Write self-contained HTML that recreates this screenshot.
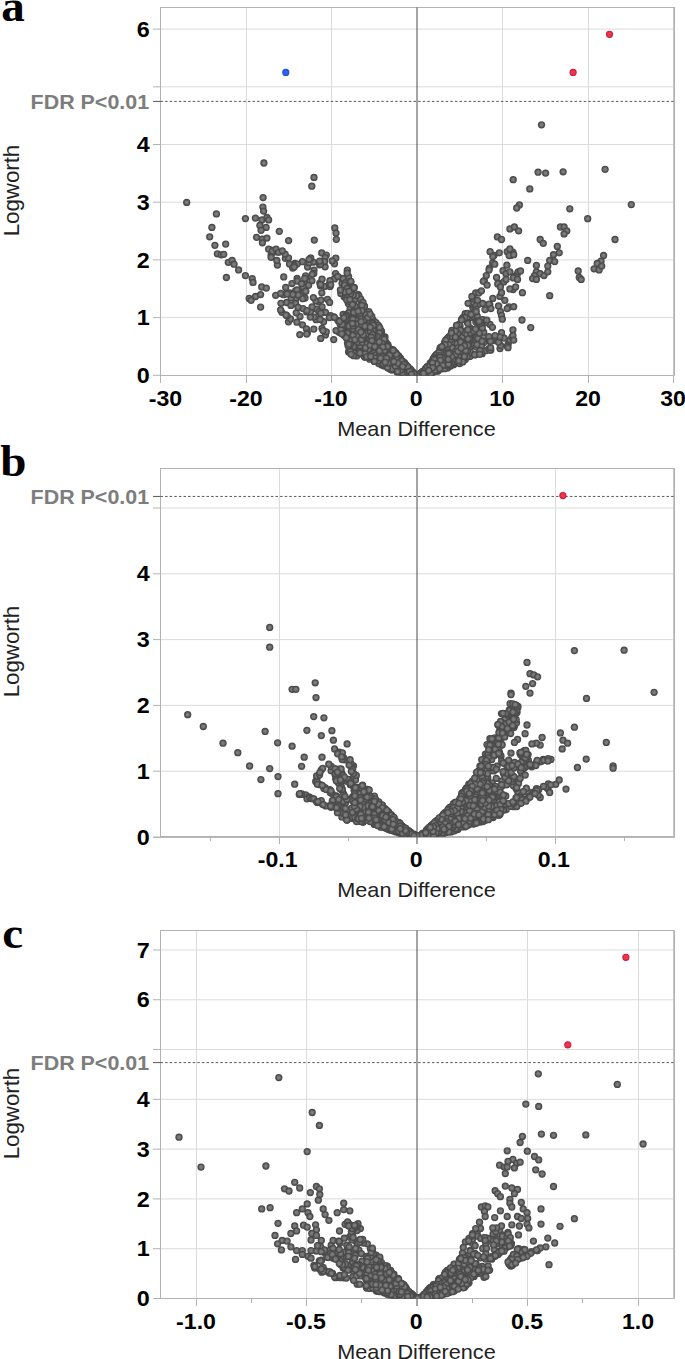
<!DOCTYPE html>
<html><head><meta charset="utf-8"><title>Volcano plots</title>
<style>html,body{margin:0;padding:0;background:#fff}svg{display:block}</style></head>
<body>
<svg width="685" height="1359" viewBox="0 0 685 1359">
<defs>
<marker id="m" markerUnits="userSpaceOnUse" markerWidth="10" markerHeight="10" refX="5" refY="5" viewBox="0 0 10 10"><circle cx="5" cy="5" r="3.65" fill="url(#mg)"/></marker>
<radialGradient id="mg" gradientUnits="userSpaceOnUse" cx="5" cy="5" r="3.65"><stop offset="0" stop-color="#7e7e7e"/><stop offset="0.38" stop-color="#787878"/><stop offset="0.62" stop-color="#5b5b5b"/><stop offset="0.82" stop-color="#494949"/><stop offset="1" stop-color="#4b4b4b"/></radialGradient>
<clipPath id="clipa"><rect x="161.0" y="8.0" width="513.0" height="367.5"/></clipPath>
<clipPath id="clipb"><rect x="161.0" y="469.0" width="513.0" height="367.5"/></clipPath>
<clipPath id="clipc"><rect x="161.0" y="931.0" width="513.0" height="367.5"/></clipPath>
</defs>
<rect width="685" height="1359" fill="#fff"/>
<line x1="153.0" y1="375.3" x2="160.5" y2="375.3" stroke="#b2b2b2"/>
<line x1="160.5" y1="317.6" x2="674.5" y2="317.6" stroke="#dbdbdb"/>
<line x1="153.0" y1="317.6" x2="160.5" y2="317.6" stroke="#b2b2b2"/>
<line x1="160.5" y1="259.9" x2="674.5" y2="259.9" stroke="#dbdbdb"/>
<line x1="153.0" y1="259.9" x2="160.5" y2="259.9" stroke="#b2b2b2"/>
<line x1="160.5" y1="202.2" x2="674.5" y2="202.2" stroke="#dbdbdb"/>
<line x1="153.0" y1="202.2" x2="160.5" y2="202.2" stroke="#b2b2b2"/>
<line x1="160.5" y1="144.5" x2="674.5" y2="144.5" stroke="#dbdbdb"/>
<line x1="153.0" y1="144.5" x2="160.5" y2="144.5" stroke="#b2b2b2"/>
<line x1="160.5" y1="86.8" x2="674.5" y2="86.8" stroke="#dbdbdb"/>
<line x1="153.0" y1="86.8" x2="160.5" y2="86.8" stroke="#b2b2b2"/>
<line x1="160.5" y1="29.1" x2="674.5" y2="29.1" stroke="#dbdbdb"/>
<line x1="153.0" y1="29.1" x2="160.5" y2="29.1" stroke="#b2b2b2"/>
<g shape-rendering="crispEdges">
<line x1="246.5" y1="7.5" x2="246.5" y2="375.5" stroke="#dbdbdb"/>
<line x1="331.5" y1="7.5" x2="331.5" y2="375.5" stroke="#dbdbdb"/>
<line x1="502.5" y1="7.5" x2="502.5" y2="375.5" stroke="#dbdbdb"/>
<line x1="588.5" y1="7.5" x2="588.5" y2="375.5" stroke="#dbdbdb"/>
<line x1="673.5" y1="7.5" x2="673.5" y2="375.5" stroke="#dbdbdb"/>
<rect x="160.5" y="7.5" width="514.0" height="368.0" fill="none" stroke="#b2b2b2"/>
<line x1="673.5" y1="7.5" x2="673.5" y2="375.5" stroke="#c6c6c6"/>
<line x1="160.5" y1="375.5" x2="160.5" y2="383.0" stroke="#b2b2b2"/>
<line x1="246.5" y1="375.5" x2="246.5" y2="383.0" stroke="#b2b2b2"/>
<line x1="331.5" y1="375.5" x2="331.5" y2="383.0" stroke="#b2b2b2"/>
<line x1="502.5" y1="375.5" x2="502.5" y2="383.0" stroke="#b2b2b2"/>
<line x1="588.5" y1="375.5" x2="588.5" y2="383.0" stroke="#b2b2b2"/>
<line x1="673.5" y1="375.5" x2="673.5" y2="383.0" stroke="#b2b2b2"/>
</g>
<line x1="417.0" y1="7.5" x2="417.0" y2="383.0" stroke="#4a4a4a"/>
<line x1="153.0" y1="101.4" x2="160.5" y2="101.4" stroke="#5a5a5a"/>
<line x1="160.5" y1="101.4" x2="674.5" y2="101.4" stroke="#5a5a5a" stroke-dasharray="2.5 2.1"/>
<g clip-path="url(#clipa)"><polyline fill="none" stroke="none" marker-start="url(#m)" marker-mid="url(#m)" marker-end="url(#m)" points="447.6,344.6 337.9,320.5 367.1,316.3 462.8,317.6 475.9,322.1 451.3,346.8 369.7,359.2 348.5,276.3 307.6,267 374.9,348.9 407.1,370.1 381.1,360.9 413.2,374.4 402.6,371.4 421.1,375 452,353.6 450.8,342.8 377.5,342.9 473.9,339.6 508.2,344 286.7,302.5 387.9,344.7 378.5,358.6 444.8,356.4 319.6,264.8 395.8,359.7 444.4,367 386.2,351.9 350.5,311.4 347.8,286.6 421.1,375 394.2,353.9 387.7,355.9 370,352.8 321.7,252.9 381.7,364.9 444,359.7 407.7,373.6 426.4,370.9 397.8,363.8 436.6,369.7 361.8,341.5 425.2,369.2 382.5,347.6 405,370.3 352.9,310.5 348.1,291.9 393.6,363.7 447.3,367.4 350.8,290.5 495,340.7 387.3,350 455,354.8 368.4,348.8 472.8,307.5 375.4,350.3 300,316.4 380.4,341.7 452.1,332 446.1,339.6 429.4,371.8 339.7,330.6 361.7,305.2 350.7,317.2 347.3,270.2 346.4,298 452.5,351.7 370.8,331.9 398.3,371.9 407.5,374.4 440.2,349.2 432,364 400.6,366.9 398.6,365.1 339.1,332.3 404.5,372.9 429.3,368.4 393.7,352.7 429.8,369.6 432.9,371.5 378.6,360.7 376.7,333 350.2,346 366.9,325.2 363,305.9 294.9,263.5 361.6,315.1 373.2,320.1 394,368.2 353.9,319.8 343.5,332.7 358.4,351.1 380.5,361.3 446.6,361.1 356.7,333.9 397.7,367.8 453.1,355.3 385,337 427.2,372 437.3,359.4 490,324.5 464.8,351 478.3,304.6 440,353.9 422,372.2 316.1,319.7 510.9,255.3 362.6,309.1 452.6,338.7 386.8,347.3 467.5,322.2 355.3,347 355.5,308.7 420,375.1 440.2,348.4 403.8,365 436.9,363.2 372.8,355.8 389.9,354.8 451.8,364.5 384.6,341.6 460,326.2 372.8,330 361.6,345.5 383.9,362.8 469.3,356.5 470.2,356.3 381,343.7 449.4,358.1 379.7,362.1 445.7,354.9 428.7,374.9 357.8,354.3 425.7,371.2 399.3,363.6 364.7,348.8 463.6,343.6 500,348.6 394.8,354.4 410.2,373.8 373.6,359.2 432.4,371.5 395.3,352.4 371,331.2 426.3,374.3 367.3,320.6 452.8,359.9 460.7,355.5 302.4,324.8 407.7,372.8 446.4,341.6 393,355.9 354.8,299.6 402.6,371.7 372.5,348.2 433.8,361.1 325.4,334.9 297.4,290.5 402.1,366.3 343.1,314.4 443.1,365.9 405.8,365.5 500.6,345.5 483.5,319.9 281.9,312.3 366.5,347.9 406.8,370.8 443.6,368.2 326.3,255.1 346.4,326.3 314,270.1 392.9,367 398.7,356 430.8,364.1 445.6,360.5 401.2,369.6 381.1,345.3 346.1,315.2 412.2,371.8 400.2,365.4 379,362.3 397,358.9 376,322.7 432.7,372.8 390.3,359.8 452.9,333.4 426.2,372.4 360.2,345.9 356.7,355.9 401.1,369.6 500.6,284.3 364.9,334.6 325.5,312.4 441.9,362.9 385.9,360.5 304,291.8 359,351.6 364.9,357 345.2,295.6 460.4,362.2 381.8,353.6 285.4,258.3 404.6,362.9 409.9,373.1 437,366.8 489.4,341.2 335.6,273.6 378.3,329.9 482.2,353.7 383.3,362.1 383.1,337.9 406.6,368.5 437.9,359.4 446.3,353.3 368.9,357.1 413.7,373.1 406.6,372.5 470.1,328 384.8,361.4 399.9,357.9 457.2,351.7 459.4,344.3 374.9,326.8 389.7,367.2 385.8,357.1 402.2,371.9 393.8,367.3 439.6,366.9 442.1,357.5 383.9,365.3 507.4,346.2 348.6,352.1 381.9,358.5 348.5,337 369.9,347.5 318.7,301.8 410.3,374.8 400.4,369.6 504,338 485.5,322.5 448,359.6 358.1,317.7 364.8,357.1 395.3,366.1 372,338.3 462.1,343 479.6,322.4 470.4,342.9 445.8,365.1 385,341.7 381.1,363.6 383.8,364.7 443,367.2 283.4,294.7 407.5,367.5 465.2,313.7 294.6,264.5 383.6,358.5 470.1,330 380.7,360.7 400.1,369.5 365.9,320.1 460.5,341.7 437.4,369.1 448.1,365.7 371.3,332.2 463.4,360.8 369.7,354.1 381.2,362 407.2,374.4 340.5,324.5 364.7,313.9 465.3,359.6 428.2,372.9 400.7,365.4 410.7,374.9 447.1,352 363.1,329.9 342,278.5 320.7,338.4 385.7,364.7 356.3,327.4 380.8,361.1 356.6,313.2 333.9,317 390.7,365.3 429.6,373.3 350.3,296.6 393.8,366.1 462.1,343.3 440.9,352.6 382.3,345.5 366.8,333.9 471.4,336.4 455.6,349.1 482.1,319.6 435,363.2 399.1,368.7 353,304.1 401.6,362.4 354.3,334.3 381,348.6 384.8,355.1 305.8,284.1 409,368.8 386.2,363.4 475.9,308.7 391.6,356.9 424.6,370.8 445.5,366.4 425.2,373.6 430,365 313.2,262.2 350.2,308.4 410,371.1 433.6,362.7 443.2,351.2 453.6,364.7 435.6,370.6 403.8,367 394,357.9 470.3,346.7 437,355.8 435.8,363.4 386.3,353.5 319.8,283.1 432,372.9 345.4,296.9 443,358.1 429.4,372 440.4,348.6 442.8,361.6 384.4,347.1 430.6,366.4 313.8,273.4 428,368.9 396.7,362.5 440.4,348 425.1,374.3 444.4,364.7 425.4,373.1 410.8,369.8 375.9,343.3 380.5,337.8 430,367.3 385.8,356.9 358.8,339 324.7,286.4 473.2,341.6 432.2,370 405,365.1 375.1,356.8 440.9,362.9 385.9,353.5 356.5,326 385.3,346.9 465,355.9 462.9,347.8 364.4,320.2 365.2,323.1 451.1,359.1 426.2,373.5 336,330.6 457.8,356.2 315.9,300.9 462.1,349.5 401.2,362.2 343.9,333.6 296.6,297.3 348.7,312.7 473.7,300.3 425,373.5 344.1,321.2 387,350.6 349.6,343.5 296.9,322.2 431.7,366.6 394.9,369.6 325.1,257.6 435,364.7 394.3,367.5 508.9,306.9 381.9,352.5 383.4,354.1 347.5,343.1 399.9,367.8 375.9,339.5 330.6,315.6 397.9,359.5 454.9,357.1 467.8,323.6 399.3,368.4 375.4,358.3 390,363.2 432.5,370.9 395.8,361.5 399.9,364.3 436.1,357.7 403.3,369.8 295.7,290.6 460.6,354.7 378.8,355.1 451.9,350.8 466.4,330.7 407.6,369.6 365.9,344 398.9,360 369.9,356.6 431.1,369.6 460.2,329.9 354.6,313 422.6,371.4 437.5,365.1 405.8,371.4 394.1,367 302.5,261.7 455.5,336.5 397.3,355.8 352,338.5 451.9,350.8 414.6,374 377.7,362 479.6,349.5 413.3,372.8 444.6,358.3 428.8,373.5 406.4,374 407,371.2 479.7,334.6 439.9,352.8 299.8,334.6 448,362.8 407.8,375.2 439.2,368.2 398,370.7 400.5,358.9 391.5,349.3 467.6,313.3 426.2,370.6 448.5,347.3 390.9,360.2 483.7,342.5 345.2,290.5 351.1,291.8 429.3,374.4 449.4,358.1 380.5,330.5 322.1,306.8 392.1,350.1 461,344.3 361.8,317.2 416.6,374.6 363.9,325 504.8,300.3 295.5,299.2 411.3,371.6 370.4,319.7 404.4,373.9 364.3,307 354.3,287.4 356.8,332.5 369.5,321.8 297.1,278.4 297.3,281 358,294.3 306.1,277.2 449.7,345.2 363.3,309 378,345 394.4,355.9 406.3,370.3 382.2,357.5 464.9,317.5 458.7,354.2 364,355.9 346.2,282.8 390.9,352.6 441,356.2 351.7,319.3 440.5,355.5 388.1,348.1 327.5,299.3 381,353.3 449.4,343.1 378.2,361.5 388.9,363.4 428.7,371 426.6,372.4 382.6,338.6 378.4,358.1 314.1,317.1 471.9,332.1 342,283.3 416.9,374.7 434.1,358.6 459,348.7 476.7,336.5 472.2,317.7 447.2,358.3 466.7,332.1 449.9,346.6 381.9,356.3 432.3,362.3 497.7,340.9 473.7,339.8 271.1,255 383,336.7 302.6,287.9 360.7,334 388.7,355.6 349.7,296.9 354.3,353.2 389,357.9 391.9,370 410,371.2 428.3,367.5 510.1,340 364.6,323.9 489.8,304.6 366.1,343.9 364.5,306.1 296.2,312.8 297,289.9 483.8,336.2 436.1,359.5 434.9,359.8 446.2,362.7 501.5,332.7 410.1,368.9 453.1,352.6 348,326.9 289.8,293 396.9,370.4 343.1,278.7 351,290.9 384,345.6 390.7,368 473.5,316.4 488.9,336.7 429.6,369.9 395.9,358.9 382.6,340.7 461.9,353.8 429.3,372.1 351.9,338.1 353.7,326.9 444.1,355.4 365.9,340.4 410.4,370.1 402.4,373.6 451.9,341.9 349,351.2 310.4,317.1 421.7,373.1 470.3,340.6 421.2,374 306.5,328.9 378.2,337.2 445.7,346.7 456.5,345.9 374.3,357.7 362.2,326.4 367.9,335 393.3,368.2 407,365.9 311.9,280.7 454.6,363.6 365.7,323.6 371.1,330.6 462.9,333.5 370.4,324 374.1,361 316.6,309.2 366.1,345.3 350,348.9 394.7,354.6 447.9,351.8 449.5,362.9 330,286.6 427,372.3 474.4,345.2 403.1,370.7 436.7,355.3 385.7,341.8 355.8,320.2 451.2,358.1 436.3,355.3 389.8,368.8 323.6,321.7 373.2,324.1 340,323.8 432.8,363.1 512,337.1 475.7,313.9 457.4,329.8 368.9,311.7 384.7,365.1 386,359.3 426.1,368.6 288.5,321.8 477.4,328.2 353.4,346.8 388,364.7 503.8,281.9 444.7,359.9 455.4,336.7 320.5,285.9 420.6,374.1 281,303.3 432,370.5 445.4,359.8 397.2,372.2 361.2,352.4 354.7,325.9 409.3,369.5 424.6,372.9 455.2,331.8 427.4,373.4 391.5,356.6 367,349.4 388.8,357.7 440.8,349.8 468.9,340.3 393,358.9 353.9,313.2 386.5,353.8 389.5,349.7 381,346.5 325.1,266.8 477.6,336 382.1,344.3 454.5,361.8 381.2,332.2 427.5,366.3 342.3,291.1 347.1,284.1 341,329.6 438.8,369.1 433.8,369.9 375.2,334.6 415.6,375 442.7,351.9 350.3,350.3 453.9,359.7 377,356 433.1,359.7 313.8,329.1 445.1,361.5 381.1,338.5 357.3,326.2 448.2,339.6 391.7,353.7 514.4,276.5 459.7,363.5 360.6,353.5 400.9,370.2 390.6,362.2 486.8,320.1 444.5,351.5 428.3,366.9 517.4,273.9 353.8,336 455,340.9 490.8,350 367.2,328.3 370.1,356 406.4,373.5 439.4,368.5 483.7,332.1 375.7,327.6 395,359.3 378.4,353.1 396.1,353.2 345.2,291.7 380.3,354.2 412.8,372.3 448,363.4 423,373.9 368.2,328.8 476.2,347 456.8,332.8 388,350.6 405.7,364.7 344.8,283 443.1,363 431.4,372.4 359.3,325.8 310.7,258 370.1,322.6 393.2,349.8 448,365.1 308.6,285.3 305,298 469.1,352.5 371,340.3 468.4,338.9 437.6,370.9 344.5,285.1 433,362.3 406.7,372 358.9,295.8 381.4,356.7 357,333.9 494,255.3 361,301.1 368,338.8 396.6,369.2 477.2,316 420.6,373.2 434.6,370.1 365.7,327.1 447.6,367.9 376.2,339.8 396.5,368 302.9,286.8 321.8,292.8 444.7,342.2 452.3,342.3 385.2,365.8 470.5,352.4 379.3,356.8 377.4,347.2 400.9,365.4 436,364.4 389.1,359 444.7,363.6 449.6,347.8 364.8,314.4 343.2,323.9 428.6,369 386.1,343 402,369.4 321,300.1 448.8,336.8 382.6,349.1 302.7,298.7 362.1,330.7 369,315.4 447.7,360.1 385.8,347.8 393.3,353.4 449.8,348.8 384.5,343.2 440.2,358.2 344.1,296.7 365.6,314.5 381.2,354.4 391.7,362.3 374.5,349.4 334.5,278.9 271.3,250.1 421.5,375 412.8,374 443.5,360 481.8,324.5 391.6,355.7 322,328.4 329.4,317.6 372.6,323.1 436.3,365.3 391.5,367.8 443.2,349.6 435.8,367.6 446.6,362 445.1,358.5 481.1,322.8 398.1,360.6 391.4,360.7 333.7,339.6 475.2,354.8 426.5,369.8 389.3,367.5 290.5,318.9 459,350.8 442.3,363.7 350.8,282.2 381.3,340.8 421.3,373.4 481.4,353.1 435.1,363 444.2,344.6 461.9,348.9 451.8,363.4 348.3,303.5 402.3,360.9 367.3,349.2 384.3,357.6 396.2,355.3 384,363.6 431.9,368.4 379.1,356.1 426.4,368 473.2,304.7 435.1,356 400.3,358.1 363.6,321 376.2,328.1 429.2,372.1 467.1,356.7 384.2,365.9 407,372.3 437.7,357.4 373.1,334.2 393.1,354 349.7,343.2 392,361.3 444.2,352.5 404.2,371.1 348.1,321.8 388.2,346.5 461.6,319.3 444,347 447.7,338.1 396.5,356.9 326.3,331.8 402.8,364.7 321.6,262.5 383.3,344.7 405,370.3 414.3,373.8 438.3,361.5 403,366.1 423,374.6 396.2,357.9 353.5,346.6 453.7,334.4 322,279.2 388.2,368 469.6,338.5 390.8,366 346,320 471.2,314.1 389.3,364.8 458.1,331.5 486.2,350.6 452,330.5 418.5,375.2 442.4,358 435.9,369.3 306.7,311.9 388.6,357.6 387.7,359.3 427.1,369.4 463.9,350.6 357.6,327 478.1,339.3 430.5,368.6 389.5,355.7 448.6,348 450.6,366 313.4,297.6 386.6,360 329.3,284.4 365.4,349.6 376.8,331 460.6,332.9 446.1,350.7 464.4,358 388.7,359.4 402.6,372.3 410.5,371.1 320.6,284.5 367.3,338.6 401.1,364.9 297.1,264.1 378.9,331.8 476.6,337.5 383.7,353.8 347.1,288.5 381.9,335.8 351.4,327.8 405.8,374.9 440.7,369.1 392.9,368 356.3,307.2 382.6,340.4 462.2,337 492.6,262.8 381.5,331.4 371.1,345.1 368.8,338.5 390.4,368.9 360.1,313.3 385,353.6 414.5,374.8 442.3,356.5 450.7,339.6 393,360.5 383.2,363.9 398.5,358 474.6,304.1 381,360.3 445.4,355.4 377,345.1 403,372.8 397.4,369.3 432.7,372.1 471.5,302.4 354.3,308.2 365.2,333.9 360.8,299.1 438.2,362.1 298.1,295 342.1,291.3 432,365.6 448.5,358.8 407.6,367.4 350.5,329.6 498.6,342.2 424.7,373.3 342.2,324.4 294.1,265.7 433.2,358.9 380.9,343.2 395,360.6 323,330.6 405.8,375.1 438.5,355.4 409.7,369.8 403.9,362.5 441.5,362.1 462.4,355.5 353.5,355.7 377.2,347.5 437.4,367.5 398.3,358.3 277.4,265 430.1,367.2 431.6,365.2 380.7,335.6 366.7,325.6 287.1,315.8 352.4,330.9 339.5,321.3 464.6,332.5 459.3,324.2 352.6,288.5 404.6,368.8 449.6,358.6 371.2,329.5 388.4,365.1 347.5,333.3 378.2,352.9 379.3,349.6 358.6,342.4 276.8,260.5 499.7,336.8 362.8,341.2 367.7,356.3 348,317.2 396.7,365.1 401.5,364.3 374,353.2 357.9,324 436.8,370.5 488.7,348.8 498.6,283.2 399.8,365.4 459.7,358 370.6,344.3 361.5,324.6 400.5,361.1 370.3,328.5 382.1,338.2 396.9,365.5 307.5,332.8 441.4,366 401.8,363.1 490.2,350.1 495,335.6 289.5,264.1 403.8,362.6 441.9,348.9 377.5,356.2 350.2,321 354.1,339.9 437,369.9 371.8,316.5 405.3,370.9 474.5,354.7 440.3,356.9 362.3,342.5 334.5,263.8 367.9,317.5 324.5,261.7 402,363.8 356.5,295.8 406.5,372 378.8,363.5 347.1,273.1 303,308.6 437.5,361.1 426.6,369.8 345.9,318 351.1,354.3 398.9,371.4 334.4,317.3 375.9,346.9 398.7,363.2 444.9,366 340.8,293.4 458.2,345.3 370.1,314.1 319,312 448.2,359.3 489.4,268.1 295.6,303.5 451.5,354.3 439.2,359.7 459.1,340.1 388.3,348.3 444,350.7 388.4,353.3 481.2,352.7 466.9,334.4 370.7,327.9 393.3,357.3 397.1,367.9 399.5,365.1 422.3,373.2 357.6,336.5 437.8,371 478,338.5 376.9,361.1 368.4,349.3 461.7,358.5 392.6,354.7 309.1,262.8 434.9,370.9 382.6,358 431.4,367.9 408,372.1 436.9,354 383.1,364.9 390.9,352.2 455.8,349.8 329.9,280.7 349.8,345.9 389.6,358.9 380.6,330.1 353.8,312.5 290.9,305.4 450.2,365.3 441.8,352.5 431,366.6 458.3,359.2 404.7,368.7 392.4,360.7 463.8,358.3 453.2,352.9 365,353.7 359.9,353 462.4,352.1 353.1,295.2 436.2,362.2 450.4,335.7 377.6,336 335.8,258.1 384.7,342.4 449.2,362.2 490.4,341.3 473.6,298.8 388.6,357.8 429.4,371.9 390,363.4 402,368.2 448.3,356.2 363,302.4 351.7,322.4 310.4,311.7 361.1,321.6 384.3,339.8 348.5,301.3 444.7,368.7 404.3,374.9 383.5,349.7 470.5,332.9 275,251.9 380,339.6 451.1,335.9 414.4,374.2 438.3,369.6 439.9,368.5 351.7,340.3 370.1,357 376.9,355.8 506.9,265.2 412.1,371.5 382.5,356.9 362.6,332.9 394.5,362 410.5,373.9 362.1,337.4 396.3,362.5 435.7,367.1 385.3,364.3 513.3,277.9 346.7,298.5 407.2,370 320.1,319.5 436.2,354.8 379.4,332.9 291.2,298 367.9,342.2 434.6,364.3 490.6,347.7 298,307.4 379.2,346.7 424.6,371.3 345.5,297.6 484.3,280.6 384.4,345.4 446.7,352.7 394.3,369 376.2,343.2 407.5,370.6 412.9,374 432,361.8 446.7,365.2 386.9,351.5 445.8,340.3 461.1,351.3 444.3,359.6 384.3,339.2 372.5,323.5 482.3,327.9 432.3,361.4 403,364.7 383.8,362.8 361.4,339.5 329.6,302.4 434,357.7 373.6,332.8 427.2,373.9 473.4,313.1 375.4,355.2 373.8,325.1 355,306.1 466.8,346.3 365,326.3 436.4,369.2 449,344.8 447.8,355.9 346.3,318.4 292.8,294.5 363.4,335.1 337.8,276.5 376.8,336.1 443.9,363.4 433.3,364.1 481.5,345.7 467.8,345.3 434,367.7 292.7,268 426.2,367.9 480.6,323.3 350.3,344.6 397.7,363 292,283.6 457.1,343.7 460.6,342 460.3,330.2 434.8,368.3 370.5,329.4 428.5,368.2 367.5,343.6 405.1,364 447.9,350 294.2,267 467.5,350.9 370.7,357.5 397.8,367.2 382.2,352.2 378.7,359.5 350.5,294 384.6,350.6 395.9,361.9 439.6,360.6 457.7,333.5 439.1,352.2 287.1,294.1 438.9,358.9 452.6,348 449.6,356.7 397.5,366.2 285.7,287.5 462.7,361.9 404.1,365 286,315 344.2,335.5 408.6,372.9 312.1,306.9 499.9,296.4 433.8,369.2 348.1,346.1 450.6,336.7 405.6,371.5 373,337.9 397.8,356 414.1,374.6 480,350.6 309.1,259.4 458.7,355.6 383.5,356.1 409.8,370.1 436,364.8 405.6,366.4 391,352.7 391.7,359.7 492.4,327.3 374.2,335 369.6,334.1 482.1,341.2 389.6,358.5 407.8,367 433.3,363.3 447.6,364.3 344.9,292 346.5,315.1 340.4,290 399.3,358.9 397,357.5 468.1,339 410.1,369.4 345.5,316.5 403,363.9 455.4,331.1 440.3,364.2 442.4,362.5 456.5,325.4 424.5,370.9 459.9,351.7 347,297.8 432,372.9 429.9,374.2 375,358 346.2,337.7 283.7,276.9 365.4,347.8 400.7,364.3 372.9,330.1 412.5,374.6 382.1,343.3 485,309.6 426.7,372 367.1,333.6 433.7,358.9 378.4,325.3 341.7,333.8 431.8,362.4 305.6,275.8 452.6,336.1 288.5,257.9 401.3,360.6 353,335.2 442.8,365.3 301.6,283.7 455.8,351.1 392.4,352.9 306.7,334 430.3,363 455.8,354.3 475.7,293 435.9,369.1 407.6,366.9 375.5,346.5 430.7,363.7 356.3,330.7 479.7,354.3 353.1,328.9 396.3,354.2 429.8,365.4 379.9,353.7 370.4,331.7 477,344.6 366.6,356.8 378.7,360.7 465.7,350.6 387.4,346.5 397.4,371.8 353.9,287.9 477.6,320.9 320.6,264.2 319.7,261.2 363.3,334.9 379.2,341.9 401.8,361.1 436,360.4 425.7,369.6 380.1,353.5 479.3,333.1 445.1,344.7 452.4,336.7 479.3,321.7 382.9,347 349,326 437.2,367.2 384.6,363.7 448.5,352.5 361.9,305.4 390.4,368.9 482.7,303.5 388.6,356.3 332.2,260.9 436.1,365.9 409.4,374.2 397.8,364.5 399.5,372.2 402.3,372.9 471.1,314.5 330.7,284.8 473.7,331.3 354.9,339.8 350.8,281.3 397.8,367.4 349,291.5 346.8,299.9 457.8,347.9 477.8,322.1 437.6,360.4 412.2,372.1 390.8,357.4 361.9,310.7 382.2,356.8 312.2,274.3 358.4,329.5 349.8,299.6 353.1,325.9 479.2,321.4 439.3,355.7 442.3,358.1 410.8,372.5 285.1,254.1 370.2,345.2 440,357.4 392.1,368.7 451.4,333 440.8,347.4 360.9,332.1 372.5,334.7 306.9,310.6 352.8,319.4 374.4,361.4 424.8,374.4 431,367.2 358.1,311.2 475.6,329.1 451.6,356.7 464.4,356.5 320.8,313.3 387.5,367.5 404,364.2 440.4,360.3 370,339.4 304.7,278.5 383.1,363.9 389.7,355.2 430.9,373.6 434.3,359.5 348.9,344.3 478.8,293 395.4,366.1 370.7,356.4 457.9,351.3 414,373.9 373.2,325.3 435.2,370.2 436.6,363.9 397.8,363.1 427.1,366.9 352.4,323.5 423.6,373.5 374.8,346.7 401,369.9 461.6,319.9 408,372.8 371.3,337.2 448.5,364.2 439.7,368.6 467.9,329.8 397.5,371.6 305.8,291.2 370.2,327.3 388.2,363 464.5,345.9 380.6,358.1 429.5,366.9 432.5,362.9 409.5,371.5 411.5,374.3 432.6,367.7 386.5,358.2 428.7,370.5 402.7,366.6 448.8,353.5 448.2,359.4 393.2,350.5 441.9,346.7 455.4,337.1 352.5,304.6 280.6,309.9 343.9,317.7 379.6,327.4 461.1,348 371.9,340.6 385.2,362.2 393.8,361.5 476.2,311.6 379.4,350.9 458.7,360.9 513.1,289.5 186.7,202.4 263.9,163 314,177.4 311.8,186.2 263.1,197.6 262.9,207.1 263.6,211.1 216.4,213.9 245.4,218.6 255.4,218.1 261.9,219.9 266.9,217.4 268.6,219.9 259.9,225.4 266.1,227.4 261.1,230.3 211.9,227.4 279.3,231.3 209.7,236.8 256.6,237.3 262.4,239.1 266.9,238.1 262.4,242.8 288.6,240.6 314.3,240.1 334.8,227.9 336,233.1 336.3,239.3 225.7,244.1 214.9,245.3 217.4,253.8 221.2,254.8 223.7,254.3 268.6,249.1 272.4,251.1 276.1,249.1 278.6,252.3 282.3,250.8 271.1,257.3 228.3,262.3 232.1,260.4 234,264.2 238.6,269.9 245.4,275.6 226.4,277.5 252.2,278.6 253,282.4 249.2,298.4 251.1,300.3 255.6,296.5 260.6,294.6 261.7,287 266.3,288.1 260.6,307.1 275.7,295.3 280.7,293.4 541.5,124.8 538.1,172.2 545.6,173.1 563.1,171.8 605.1,169.3 513.2,179.7 529.8,188.9 631.3,204.6 569.8,208.8 587.7,218.7 519.4,205 516.7,208 509.9,228.9 514.4,227 518.6,230.8 560.4,227 564.1,227 566.8,230.8 564.1,233.9 497.4,236.9 501.5,239.5 540.2,239.5 543.3,243.3 615,239.5 557.3,246.4 559.2,252.8 553.5,254.7 549.7,260.4 554.7,261.6 547.8,266.1 603.6,255.5 601,261.2 597.2,263.5 594.1,268.8 599.1,269.9 601.7,266.1 578.2,271 579.3,277.5 581.2,279.4 490.1,251.7 492.8,256.6 499.3,252.8 507.2,251.7 512.9,252.1 509.9,249 509.1,255.5 513.7,254.7 527.7,260.4 536.4,265.4 494.7,264.2 489,269.9 486.3,275.6 483.3,281.3 536.4,271.8 534.5,275.6 540.2,273.7 544,275.6 547.8,271.8 532.6,278.6 536.4,279.4 503,270.7 506.1,273.7 509.9,271.8 518.2,271.8 520.5,271 496.6,277.5 506.1,279.4 517.5,279.4 487.1,285.1 497.7,283.9 509.9,288.9 515.6,287 500.4,287 501.5,292.7 522.4,292.7 549.7,295.7 481.4,290.8 471.9,296.5 468.1,303.3 477.6,300.3 492.8,298.4 489,304.1 498.5,306 513.7,306.7 507.2,308.6 500.4,311.7 490.9,308.6 501.5,315.4 502.3,319.2 522,320 530.7,327.6 512.9,329.9 512.9,335.6 513.7,340.1 508,347.7"/>
<circle cx="285.8" cy="72.4" r="3.05" fill="#2a63f6" stroke="#2250d2" stroke-width="1.1"/>
<circle cx="573.1" cy="72.4" r="3.05" fill="#f2334d" stroke="#c61f3b" stroke-width="1.1"/>
<circle cx="609.5" cy="34.3" r="3.05" fill="#f2334d" stroke="#c61f3b" stroke-width="1.1"/>
</g>
<g font-family="'Liberation Sans', sans-serif">
<text transform="translate(149.8 382.9) scale(1.1 1)" font-size="21.2" font-weight="bold" text-anchor="end" fill="#000">0</text>
<text transform="translate(149.8 325.2) scale(1.1 1)" font-size="21.2" font-weight="bold" text-anchor="end" fill="#000">1</text>
<text transform="translate(149.8 267.5) scale(1.1 1)" font-size="21.2" font-weight="bold" text-anchor="end" fill="#000">2</text>
<text transform="translate(149.8 209.8) scale(1.1 1)" font-size="21.2" font-weight="bold" text-anchor="end" fill="#000">3</text>
<text transform="translate(149.8 152.1) scale(1.1 1)" font-size="21.2" font-weight="bold" text-anchor="end" fill="#000">4</text>
<text transform="translate(149.8 36.7) scale(1.1 1)" font-size="21.2" font-weight="bold" text-anchor="end" fill="#000">6</text>
<text x="149.1" y="108.6" font-size="20" font-weight="bold" text-anchor="end" fill="#7d7d7d" textLength="118.5" lengthAdjust="spacingAndGlyphs">FDR P&lt;0.01</text>
<text transform="translate(165.4 406.1) scale(1.09 1)" font-size="21.2" font-weight="bold" text-anchor="middle" fill="#000">-30</text>
<text transform="translate(246.0 406.1) scale(1.09 1)" font-size="21.2" font-weight="bold" text-anchor="middle" fill="#000">-20</text>
<text transform="translate(331.0 406.1) scale(1.09 1)" font-size="21.2" font-weight="bold" text-anchor="middle" fill="#000">-10</text>
<text transform="translate(416.2 406.1) scale(1.09 1)" font-size="21.2" font-weight="bold" text-anchor="middle" fill="#000">0</text>
<text transform="translate(502.0 406.1) scale(1.09 1)" font-size="21.2" font-weight="bold" text-anchor="middle" fill="#000">10</text>
<text transform="translate(588.0 406.1) scale(1.09 1)" font-size="21.2" font-weight="bold" text-anchor="middle" fill="#000">20</text>
<text transform="translate(673.0 406.1) scale(1.09 1)" font-size="21.2" font-weight="bold" text-anchor="middle" fill="#000">30</text>
<text x="416.5" y="435.7" font-size="21" text-anchor="middle" fill="#222" textLength="158.5" lengthAdjust="spacingAndGlyphs">Mean Difference</text>
<text transform="translate(18.8 190.5) rotate(-90)" font-size="21.5" text-anchor="middle" fill="#222" textLength="91.5" lengthAdjust="spacingAndGlyphs">Logworth</text>
</g>
<line x1="153.0" y1="837.0" x2="160.5" y2="837.0" stroke="#b2b2b2"/>
<line x1="160.5" y1="771.2" x2="674.5" y2="771.2" stroke="#dbdbdb"/>
<line x1="153.0" y1="771.2" x2="160.5" y2="771.2" stroke="#b2b2b2"/>
<line x1="160.5" y1="705.4" x2="674.5" y2="705.4" stroke="#dbdbdb"/>
<line x1="153.0" y1="705.4" x2="160.5" y2="705.4" stroke="#b2b2b2"/>
<line x1="160.5" y1="639.6" x2="674.5" y2="639.6" stroke="#dbdbdb"/>
<line x1="153.0" y1="639.6" x2="160.5" y2="639.6" stroke="#b2b2b2"/>
<line x1="160.5" y1="573.8" x2="674.5" y2="573.8" stroke="#dbdbdb"/>
<line x1="153.0" y1="573.8" x2="160.5" y2="573.8" stroke="#b2b2b2"/>
<line x1="160.5" y1="508.0" x2="674.5" y2="508.0" stroke="#dbdbdb"/>
<line x1="153.0" y1="508.0" x2="160.5" y2="508.0" stroke="#b2b2b2"/>
<g shape-rendering="crispEdges">
<line x1="279.5" y1="468.5" x2="279.5" y2="836.5" stroke="#dbdbdb"/>
<line x1="555.5" y1="468.5" x2="555.5" y2="836.5" stroke="#dbdbdb"/>
<rect x="160.5" y="468.5" width="514.0" height="368.0" fill="none" stroke="#b2b2b2"/>
<line x1="673.5" y1="468.5" x2="673.5" y2="836.5" stroke="#c6c6c6"/>
<line x1="153.0" y1="837.5" x2="675.0" y2="837.5" stroke="#b8b8b8"/>
<line x1="279.5" y1="836.5" x2="279.5" y2="844.0" stroke="#b2b2b2"/>
<line x1="555.5" y1="836.5" x2="555.5" y2="844.0" stroke="#b2b2b2"/>
<line x1="210.5" y1="836.5" x2="210.5" y2="841.0" stroke="#b2b2b2"/>
<line x1="348.5" y1="836.5" x2="348.5" y2="841.0" stroke="#b2b2b2"/>
<line x1="486.5" y1="836.5" x2="486.5" y2="841.0" stroke="#b2b2b2"/>
<line x1="624.5" y1="836.5" x2="624.5" y2="841.0" stroke="#b2b2b2"/>
</g>
<line x1="417.0" y1="468.5" x2="417.0" y2="844.0" stroke="#4a4a4a"/>
<line x1="153.0" y1="496.45" x2="160.5" y2="496.45" stroke="#5a5a5a"/>
<line x1="160.5" y1="496.45" x2="674.5" y2="496.45" stroke="#5a5a5a" stroke-dasharray="2.5 2.1"/>
<g clip-path="url(#clipb)"><polyline fill="none" stroke="none" marker-start="url(#m)" marker-mid="url(#m)" marker-end="url(#m)" points="317.4,802.4 439.9,828.8 363,822.3 432.2,824.9 443.2,834 379.3,822.5 381.2,819.6 511.2,779.5 356.2,806.5 480.7,766.2 384.8,825.5 336.3,804.1 432.3,829.9 478.8,813.6 401.5,831.7 487.1,757.3 528.3,797.9 445.7,814.2 436.1,836.1 424.1,834.9 455.7,824.7 380.2,824 547.8,788.7 453.2,808.1 391.8,815.9 389.9,825.8 444.4,823.6 426.5,830.2 443.7,813.9 341.7,773 436.3,831.2 384.9,822.2 479.8,772.6 450.2,821.6 448.2,816.2 474,804.6 521.7,798.5 396,830.7 431.7,828 381.5,808.2 351.3,816.9 396.7,828.1 529.9,795.6 524,791.9 428.9,834 533.4,792.2 466.9,822.2 489.8,767.3 523.5,765.9 331.1,770.7 454.2,820.7 353.5,765.8 444.1,828.3 370.9,803 486.4,777 494.4,795.9 549.7,792.5 354,776.3 514,777.2 472.1,795 357.8,805.4 449.6,830.7 450.7,828.8 430.1,833.3 345.9,818.4 372,803.5 351.1,818.4 479.9,784.8 469.7,800.7 433.2,827.4 447.3,824.5 493,795.7 365.7,807.1 485.4,786 454.2,816.3 477.4,821.3 341.6,776.8 399.1,831.1 366.1,791.9 505.8,796 450.1,831.1 455.8,818.8 450.9,815.3 388.6,812.7 385,824.6 305.7,794.8 513.9,727.6 443.2,819.7 476,795.1 415.6,835.6 442.7,815.3 445.5,815 401.2,825.4 408.4,831.7 507.4,767.3 383.6,814.2 498.9,815.2 482.3,769.2 435.3,832.5 459.8,816.9 466.2,814.1 480.2,822 464.3,814.3 450.9,817.2 477.1,797.9 398.1,828.3 369.3,812.8 548.6,785.4 454.8,816.9 467.6,819.2 383.1,809.2 449.9,816.2 383.2,815.8 397.7,826.5 374,816.5 385.5,817.6 427.8,835.8 391.1,826.3 461.4,802.2 493.7,770.9 444,825.6 489.7,758.9 374.3,824.4 523.3,766.4 393.1,822.2 452.6,817.4 386.7,819.6 339.6,808.9 437.6,830.6 394,830.5 452.8,826.1 399.8,832.6 459.9,822.7 391.5,818.8 446.3,830.3 494.8,737.9 409.4,832.1 461.5,809.7 546.9,760.8 465.7,823.7 335.7,778.6 538.6,762 441.1,822.8 350.3,813.8 423.7,835.3 485.3,820.3 439.1,818.9 372.3,811.7 410,832.5 429.7,833.5 481.1,815.9 351.2,764.2 402.8,830.9 384.5,823.4 388.3,813.2 384.5,812.1 364.1,801 457.9,808.2 354.1,790.2 450.8,830.1 403.3,832.8 450.5,817.2 456.2,819.4 333.5,805.8 462.7,792.5 404.3,830.8 388.8,814.5 513.3,804.2 448.3,809.2 499,811.4 342.4,789.7 394.8,830.4 380.7,810.9 477,786.9 505.6,803.6 451.7,826.3 428.6,828 467.6,804.4 510.2,777 476.6,814.8 462.2,824.6 497.1,766.2 455.8,817.4 455.1,826.7 467.4,792.5 452.9,815.5 467.5,791 433.7,831.8 463.6,808.2 429.9,826.9 442.4,832.2 524.2,750.6 398.4,830.2 352.8,812.8 487,798.1 410.2,834.7 519.1,800.7 527.4,791.1 451.8,824.1 429.6,835.1 451.9,817 468.3,811.3 382.4,805.4 448.5,824.7 366.2,792 468.8,823.5 497.2,738.3 469.5,784.4 518.6,779.9 444.1,826.3 466.4,787.8 384.9,827.8 451.7,824.6 406.4,832.2 524.6,762.9 406.3,836 383.3,813.6 522,770 442.7,824.9 440.5,827.8 400.7,827 376.6,822 408,835.4 467.2,805.5 498.5,810.5 382.5,819.4 445.7,820.8 437.2,828.5 339.1,769.2 514.5,725.7 334.6,748.9 345.4,816 431.3,827.8 478.3,818 468.8,784.1 403.5,827.2 443.4,827.6 440,819.5 449.8,807.7 464.5,826.9 522.4,756.6 470.7,789 468.1,795.1 388.4,811.8 505.4,764.1 491.8,740.8 455.3,826 451.4,823.1 468.4,822.1 440.2,824.6 396.3,831 512.5,727 393.7,829.8 353.4,779.6 342.1,790.3 374,814.1 465.5,817.9 450.7,831.4 447.5,829 479.3,806 499.7,807.8 483,821.5 352.9,785.8 366.1,801.1 473.2,824.1 385.3,824 509.4,762.3 502.1,786 346.5,781.2 518.5,783.4 502.9,722.7 403.4,831 378.8,817.3 388,828.9 516.8,707.2 355.9,811.7 368.1,811 403.9,835.7 369,802.2 362.3,819.5 388.2,819.3 486.4,759.6 364.9,791.3 488.5,817.8 454.9,802.4 428,831.6 427.6,829.2 391.8,824.4 371.6,814.2 507.7,716 401,827.8 514.1,785.8 408.4,830.7 374.5,822.9 399.7,827.8 452.8,823.5 445.1,820 475,811.3 457.3,809 393.1,830.6 457.4,819.6 353.9,810.7 393.8,818.5 363.8,820 448.1,826.4 406.9,832.4 446.7,826.6 399.2,822.7 520.1,778.4 362.3,803.1 352.2,816.3 461.3,825.6 478.4,773.5 393.7,818.5 405.8,828.4 484.4,797 437.4,832.5 332,793.5 375.7,812.5 477.6,780.8 486.7,760.5 463.7,810.3 440.1,826.4 321.3,769.9 357.9,813.4 471.5,796 357.7,808.6 444.8,820.5 481.9,818.3 444.3,825.1 411.2,833.1 373.9,820.6 450.1,814.4 399.2,829.3 431.5,826.1 461.3,807.6 438.4,831.4 461.1,805.2 371.9,818.5 459.3,824.7 501.4,738.1 440.3,831 387.2,827.1 301.7,793.9 487.4,810.9 507.6,716.4 392.9,823.1 490.6,746.2 430.9,828.1 448.3,815.7 431.3,829.5 543.2,759.5 536.5,788.7 389.3,819 432.8,825 461.1,801.1 486.2,778.3 410.3,832.7 379.2,823.1 462.9,803 476.7,805.4 491.5,799.9 499.4,751.8 492.1,784.5 465,820.9 477.5,795.6 449,818.2 439.8,825.6 368.9,803.3 459.4,823.6 510.6,733.5 352.6,796.8 363.2,805.9 431.1,829.6 496.1,797.8 516.1,801.9 439.4,833.4 491.1,757.9 403.6,834 480.4,792 347.6,814.8 450.7,812.2 338.3,782.8 399.7,823.4 449.5,830.7 387.2,828.4 497.6,796.9 434.4,824 380.1,809 430,834.9 360.5,803.6 450.2,808.3 397.2,823.2 375.2,818.7 336,806.1 430.3,836 391.4,826.8 489.8,754.2 389.9,824.7 486.5,774.2 494.1,797.4 379.9,805.8 476.3,822.7 378.5,820.5 473,788.2 436,826.1 511.2,711.4 451.3,821.1 431.4,828.1 471.4,806.2 396.8,831.5 418.4,835.6 437.1,820.5 513.2,785.6 350.1,784.5 445.4,812.4 458.5,826.4 365.2,814.4 382.1,824.8 369.6,819.4 331.3,766.5 351.7,767.6 393.1,830.8 440.9,831.5 362.5,819.4 374.4,817.8 429.4,828.1 492.3,816.1 498.3,799 541.2,761.5 354.3,794.8 518,797 493.2,767.5 461.9,801.1 501.7,735 410.1,836.1 451.7,822.8 438.7,823.7 387.7,820.3 498.8,803.9 384.9,826 345.8,798.4 451.9,806.5 477.1,792.8 385.9,822.2 501.5,744.4 350.3,816.6 423.4,833.9 427.7,833.8 309.1,797 389.7,829.5 367.8,814.6 385.9,815.3 521.6,772.8 360.9,796.7 400.9,829.8 498.6,799.8 371.3,796.3 526.1,755.6 360.2,792.4 368.8,820.3 467,819 485.5,789.8 474.2,823.6 475.6,785.2 386.9,810.9 378.7,814.8 500.3,727.9 521,799.8 430.9,836.1 447.2,829 431.4,835.5 474.4,819.2 438,826.9 393.9,819.8 469.8,786 393.5,827.3 386.4,812.3 391.7,823.1 445.7,832.4 386.9,812.9 336.3,780.8 388,826 341.9,816.9 386.1,817.4 492.8,801.9 512.5,781.4 382.2,826.8 492.4,817.3 505.6,806.9 405.3,835.9 513.8,806.7 360.1,804.5 478.7,814.7 472.4,781.1 355.3,809.9 471,823 485.1,758.1 436,827.7 435.6,827.5 399.6,829 482.7,769.1 471.3,822.4 387.9,826.1 400.1,826.1 428.2,835.6 390.2,825.7 424.6,833.8 301,794.4 413.9,835.3 400.4,832.3 307,798.8 345.1,759.9 445.6,829.8 341.2,807.7 397.5,831.1 446.9,824.2 472.3,807.9 548.6,784.8 452.9,810.1 459.7,802.2 439.1,829.3 483.8,789.2 432.9,825.7 466.3,821 341.1,768.9 490.4,796.6 349.1,765 465.4,816.7 394.1,827.4 391,824.1 430.3,832.2 463.3,819.2 396.7,830.2 499.1,807 487,744.6 353.3,799 486.9,796.9 409,831.8 462,821.5 485.4,754.1 457.6,821.9 497.8,802.2 468.1,795.1 450.1,830 378.6,803.7 414,834.1 501,756.2 482.1,780.2 493.1,817.5 352.2,782.5 430.4,827.8 431.7,828.6 478.3,771.2 389.2,822.8 440,826.3 415.4,835.1 377.3,815.5 369.8,816.1 368.9,801 486.2,819.2 395.5,824.9 369.4,807.5 378.8,810.1 477.5,820.4 481.1,793.8 475.8,779.6 477.1,812.2 390.5,824.6 309.7,797.6 460.4,816.1 383.5,811.9 344.9,778.7 482.6,793.9 445.8,817.5 496.3,778.4 433.3,832.2 408.2,832 475.7,803.2 446.5,812.9 325.1,787.7 548.3,784 391.5,818 451.6,813.7 335.9,770.7 358.8,803 404.2,833.7 371.4,800.7 311.8,798.4 479.4,784.5 401.5,830.8 509.3,710 402,826.1 471.6,795 480.9,804.3 426.6,832.5 322.7,768.3 510.9,805.3 442.7,827 394.2,825.3 510.1,703.7 403.5,827.4 359.5,821.3 475.5,788.1 456.9,825 386.2,811.8 513.5,764.3 438.2,829.9 448.9,817.5 402.5,833.1 467.5,800.2 477.5,788.9 373.2,813.1 341.4,786.9 381.5,816.8 487.3,813.8 332.3,801.1 375.4,814.2 471.3,819.1 436.8,829.1 431.4,834.8 418.7,836.2 535,792.6 445.2,822.3 493.7,801.6 445.6,825.7 436.7,832.6 440.5,817.7 454.7,823.3 510,806.4 468,796 452.5,824.7 438.3,820 444.5,813.2 485,770.2 487.8,777.8 317,777.8 397.4,827.4 430.5,835.7 512,779 446.8,826 520.4,797.9 504.7,736.9 365.7,811.4 352.5,818.5 486.4,806.7 395.3,831.6 432.1,829.5 388.5,821.7 385.1,808.7 468.5,793.9 388.5,813.2 353.7,777.8 467.8,824.9 426.3,833.8 432,828.2 390.2,816.2 457.7,829.5 446.6,824.7 389.4,826.6 397,831.4 471.8,808.3 409,835.5 433.3,829.4 466.5,824.6 431.8,825.6 509.4,721.1 505.1,718.3 392.6,827.9 471.2,786.4 441.8,831.7 349.7,780.9 492.3,749.5 343.7,758 430.3,834.5 370.5,806.6 385.8,820.5 447.7,826.5 335,774.2 451.4,826.3 398.1,824.1 493.1,802.1 367.4,812.1 454.5,824.4 385.1,823.3 450,818.2 381.9,805.4 385.9,826 360.2,799.2 443.2,834.2 476,818.2 440.3,822.9 479,806.3 524,755.8 406.4,830.8 427.8,832.1 331.2,805.9 469,791.1 450.2,828 354.3,798.3 356,802 469.9,813 536.3,762.9 347.1,820 445.8,820.6 432.6,826.6 453.7,826.7 489.2,792.4 473.9,784.3 386,827 516.5,722.8 491.4,803.1 361.9,811.7 362.9,817.3 437,824.9 447.5,831.1 500,804.2 506.3,723.9 465.5,789.5 434.6,836 500.3,754.9 468.3,799.2 499.5,804.1 438.7,820.9 318.7,775.3 436.8,832.7 423.2,833.2 526.2,766.5 489.9,738.7 461.2,801.5 432.5,834.7 447.3,831 442.8,818.8 358.8,816.7 397.3,824.2 540.2,797.5 452.8,811.5 408.6,835.1 491,787.3 361.5,799.6 460,822.6 390.8,815.6 446.4,826.2 406,831.7 437.6,826.5 471.8,815.8 385.3,817.7 455.8,819.7 427.7,834.5 492.2,794.8 358.6,802.2 479.5,789.1 485.2,778.4 473.8,813.4 436.1,829.4 488.2,801.9 490.8,786.8 491.2,744.4 447.2,827.5 408.4,835.4 381.1,812 468.7,817.8 361.4,814.3 361,788.2 408.4,833.5 413.5,836.1 376.5,808.8 455.3,825.2 459,818.2 372.1,812.1 443.9,827.6 475.5,777.6 422.7,835.4 435.6,835 377,814.6 401.5,830.2 400.6,825.5 520.8,755.1 458.1,825.6 433.7,831.2 461.2,813.7 439.1,823.9 457.6,804.3 369.3,797.3 441.6,827.8 492.8,786.9 348.2,779.3 444.4,815.2 482.2,785.5 379.5,819.1 364.5,799.7 400.3,828.6 461.4,802.1 400.1,825.7 435.3,828.9 481.3,779.5 374.4,796.1 501.6,761.1 355.5,779.9 462.5,804 538.2,795 357.3,804 315.7,781.4 505.8,731.6 463.5,817.8 487.4,755.2 486.2,812.4 447.8,829.7 455.4,824.9 504,731.8 440,823 445.1,824.2 461.7,793.4 516,798 440.2,826.4 473,813.1 451,831.9 369.6,817.1 381.1,821.5 429.7,834.8 394.1,826.3 498,725.1 477,799.2 470,807 428.6,829.7 405.8,833.1 399.3,830.8 454.5,830.8 526.3,788.2 441.4,832.5 386.6,821.1 341.3,780.9 524.3,767.9 437.6,825.5 499.9,814.4 481.7,759.6 468.8,819 336.5,795.9 452.7,822.9 510.2,765.4 447.1,815.1 448.7,820.9 445.5,831.3 438,821.3 444.4,830.2 438.8,820.3 339,752.1 401.1,830.5 456,820.3 457.4,828.4 438,824.5 350.9,781.9 485.1,783.6 401.8,833.8 525.4,756.1 432.2,836.2 475.6,797.1 362.8,789 384,813.1 356.8,789.7 322.5,804 384.2,824.2 358,787.5 472.5,804.5 462.3,820.8 388.6,821.8 485.6,761.5 386.8,817 361.3,813.4 441.3,827.6 487.8,804.4 375.7,819.5 389.8,824.2 491.3,750.3 312,798.7 451,821.1 436.1,830.9 430.1,827.3 387.6,817.8 380.6,821.8 509.2,714.9 346.8,820 427.2,834.3 517.5,791.3 382.8,817 439.8,820 396,830.6 495.2,749.2 437,821.5 501.5,713.6 469.6,816.1 433.5,831.8 523.3,791.6 383.7,809.3 394,824.7 356.6,821.5 353.6,799.8 493.1,805.2 519.9,753 378.2,819.7 387.5,821.8 331,807.3 394,818.1 465.4,821.6 481.9,767.5 339.2,811 528.3,760.2 370.5,813.9 442.7,825.7 432.9,835.5 447.1,816.1 522.4,769.4 452.1,814 395.5,822.8 466.8,817.6 516.5,705.3 443.8,827.4 449.9,820.9 403.7,829.9 392.6,826.3 460.1,798.5 443,830.1 404,835.2 409.3,832 477.7,774 517,712.6 508.2,714.9 441.7,817.4 458,803.5 441.8,829.9 451.6,809.3 434.1,823.4 468.9,820.8 408.9,831.1 343.6,794 391.2,814.7 436.5,827.9 380.8,827.2 458.2,828.8 486.8,758.4 523.4,755.5 453.5,810.8 384.1,809 466.6,821.8 408,833 501.8,781 488.8,813.2 437.8,831.9 469,806 479.1,772.5 444.7,828.6 421.1,835.9 371.6,800.3 440.8,823.4 452.5,822.8 443.1,827.6 447.7,826 453.4,803.8 479.6,782.4 491.4,816.5 385.3,809.6 508.9,763.8 334.3,795.9 453.1,828.3 446.6,818.5 428.1,835.6 352.6,817.6 399,822.9 388.5,812.1 434.2,834.6 501.2,744.8 400.1,829.2 386.2,819 379.7,819.2 438.9,825 448.1,818.3 460.2,821.2 500.1,795.3 500.5,721.4 444.1,825.9 499.9,812.2 340.1,752.8 479.1,805.4 459.7,826.6 390,830.1 459.7,824.4 379.6,816.8 345.6,802.7 321.1,802.7 402.4,830 458.8,820.2 430.3,835.1 457.7,812.7 481.9,814.4 446.8,818.2 383.9,823 389.6,828.3 494.1,755.8 482.6,794.9 497.1,806.1 506.7,784.8 460.5,824.6 350.1,759.7 444.6,820.2 473.6,783.1 481.1,778.6 343.1,775.3 492.1,782.9 336.9,801.2 503.6,773.8 478.7,774.8 464.5,818.6 461,825.4 510.9,712.2 317.2,782 448.6,816 507.4,728.6 555.7,784.3 338.2,806.3 526.6,758.2 431.9,825.4 385.4,820 486.4,776.5 496.2,812.9 514.1,710.5 464.9,801.6 450,811.2 489.8,745.2 431.9,829.8 487.9,754.1 401.8,827.2 511,753.1 427.8,832.5 456.4,813.7 409.4,834.5 363.6,814.2 375.4,811.8 491,807.7 462.2,806.3 372.3,798.1 398.3,828.3 457.2,810 383.5,808.9 398.1,827.4 342.4,752.8 489.2,809.1 383.3,807.6 469.5,819.4 481.2,797.4 367.3,789.3 388.6,818 378.5,815.5 487.2,762.1 429,834.2 433.3,830.4 384.7,811.9 364.9,818.7 387.6,814.7 399.2,833.2 492.2,756 482.7,820.8 468.8,820.5 320.2,784.7 446.1,831.3 365.1,809.8 342.2,759.6 466.6,808.9 379.8,809.1 433.9,824.2 406.2,834.7 478.7,806.8 371.6,811.8 396.8,828.8 443.1,819.1 427.8,834.1 466.2,809.4 441,834.7 354.9,817.5 455.6,817.9 473.4,820.4 394.3,828.5 453.8,828.7 364.2,812.3 407.2,831.3 375,823.1 434,834.8 478.2,779.9 483.2,796.5 494.6,802.3 434.9,833 538.8,789.4 365.2,818.9 424.6,835.6 439.3,821.5 369.3,796.8 471.5,806.4 371.4,820.5 436.5,821.2 490.8,798 489.3,785.2 378.8,801.9 491.7,816.7 490.6,758.4 436,829.8 486.8,783 470.7,783.6 431.4,825.6 459.9,809.7 469.4,811.4 379.4,817.8 509.2,722.2 352.6,769.6 445,815.3 445.7,823.3 461.4,803.4 374.5,800.2 453.1,827.9 485.2,788.4 444.9,824 417.4,835.6 477.7,800.5 504.1,713.8 430.8,827 356.3,775.4 330.2,792.6 447.2,825.6 410.7,835.6 480.6,811.3 370,821.5 526.4,754.6 402.1,831.9 443,824.1 378.8,806.4 446.4,830.9 323.9,788.4 458.7,811.2 537.1,760.3 451,816.2 426.2,833.6 397.8,822.5 477.4,817 442.5,831.5 483.4,819 360.4,793.5 515.6,766.6 386.6,827.7 341.3,800 465.6,810.8 402.9,831.5 476.2,799.6 313.8,798.8 400,824 351.6,808.2 373.9,810.5 469.7,808.8 444.8,829.9 362.6,785.2 436.1,834.5 517.6,708.1 483.1,782.5 512.8,703.8 360.6,809.2 362.7,803.9 456.7,820.6 333.4,805.7 404.1,833 431.2,825.6 403.9,831.1 397.2,822.8 411.6,834.4 505,777.3 455.4,815.5 404.9,835.1 383.1,826.3 434.3,823.6 528.1,754.6 452.8,830.7 473.2,789.9 442.9,829.3 521.2,762.4 343.4,801.4 386.6,823.9 362,788.3 507.1,713.9 460.2,802.8 453.3,808.4 498.5,753.1 519.6,765.9 510,773.6 388.5,824.4 518,706.4 484.2,791 492.7,797.1 487.6,773.7 388.5,812.9 472.3,822.8 459.1,800.4 506.2,809.5 472.4,811.2 443.4,816.9 405.8,835.4 336.4,796.7 448.6,825.7 335.4,773.8 491.6,759.7 516.7,710.7 474.4,802 432.9,830.6 525.8,750.4 481.7,789.6 332.7,800.4 509.4,710.6 466.3,789.2 316.6,776 369.7,812.7 494,802.3 482,773.4 446.2,821.2 358.9,808.4 389.5,819.7 390.6,827.5 422,834 464.2,807.3 442.7,830.8 353.6,773.4 429.5,827.4 343.4,813.5 390,825.2 495.5,786.4 403.3,831.5 484.7,787.4 410.9,832.3 494.7,804.9 402.7,829.4 457.3,821.5 448,826.1 454.4,819 516.8,806.5 446,823.2 447.4,830.4 484,793.1 519.4,797.8 469.9,815.9 473.2,806.9 379.3,806.3 401,833.2 453.4,828.3 329.8,789.6 325.7,805.9 464.1,811.1 476.5,816.5 371.1,813.1 392.3,820.2 491.9,738.8 376.9,819.4 452.2,825.4 427.3,832.4 390.6,816.6 474.5,823.4 375.5,799.1 522.4,799.7 476.1,815.4 499.2,801.9 440,820.2 401.3,832.2 382,804.9 409.1,831.5 444.4,832.8 397,821.9 448.6,828.4 477.3,789 531.8,766.8 319.6,774.7 428,829.3 399.9,823.5 367.3,807.3 403,831.6 454.8,824.8 453.5,803.8 461,826.8 376.5,821.8 426.9,829.7 525.2,757.8 356.3,806.5 526.3,754.3 513.6,803.4 434.5,832.5 437.1,828.4 531.4,765.1 328.8,764.2 507,773.2 445,828.5 503.2,763 501.3,745.2 321.2,800.6 436.3,832.2 456.8,810.5 442.5,832.1 342.3,789.4 361,818.7 359.9,814.4 408,834 335.1,768.7 454.8,816 390.1,828.1 367.7,816.8 406,832.3 350.8,799.1 513.9,776.6 482.5,773.1 373.8,807.3 431.3,833 498.6,738.3 487.8,782.1 364.6,792.3 514.7,762.4 337.6,753.8 482.3,777.9 390.9,815.2 471,810.5 458.1,802.9 508.7,766.7 401.6,826 422.8,833.7 336.3,808.1 496.8,814 496.6,805.7 375.9,823.2 421.9,835 402.1,833.6 401.7,827.6 436,833.9 395.7,831.8 390.4,823.8 396,828.4 466.9,822.6 449,812.6 403.9,834.7 529.9,797 441.9,831.9 455.8,802.4 326.1,789.4 337.5,812.7 444.9,821.8 395.1,827.2 473.4,811.6 385.5,819.5 476.5,823 389,827.3 511.1,772.4 431.5,825.5 431.1,831.3 479,803.8 436.3,821.9 386.1,814.3 450.8,808.1 546.1,787.1 422.6,835 367,797.1 423.8,833.4 392,825.8 337.1,808.2 475.3,784.3 471.5,806 399.2,829.1 499.5,726.2 448.8,808.8 457.1,818.9 446.8,812.1 386.7,828.1 374.5,814.3 500.2,804.7 389.9,820.7 355.7,807.3 352.6,798.6 455.6,828.7 464.1,792.8 433.4,828 461.4,808.2 351.4,771.4 470.5,800.3 488.3,757.9 378.6,804.2 392.8,826.6 432.4,825 508.5,780.8 387.7,829.1 525.8,801.2 470.3,819.9 385.8,821.1 469.1,818 448.4,825.1 363.3,807.1 479.1,773 354.7,793.5 445.7,816.7 477.7,772.1 443.4,820.6 352.5,812.3 452.8,827.2 492.5,795.8 385.9,813.1 478.8,800.7 450.3,810.1 472.2,786.3 391.5,825 452.7,809.8 443.9,830.6 390.2,819.1 478.9,813.5 472.7,809.1 450.5,824.1 520.9,752.4 505.8,713.6 490.5,814.9 406.4,833.8 352.8,800.9 508.7,760.2 388.4,818.9 430.1,828.1 486.4,760.4 428.3,829.7 355.4,787.8 514.1,767.8 543.5,786.4 463.9,815.2 458,813.3 393.9,817.4 411.9,833.8 516.3,706.1 482.9,791.4 487.3,783.3 503.7,809.7 488,791 450.1,828.7 486.1,764.4 414,836.1 449.9,807.5 502,794.8 460.9,811.7 407.4,833.1 501.7,726.7 478,810.2 489.5,788.9 499.9,789.1 382.1,807.8 434.5,825.8 345.4,808.4 444.9,823.6 431.4,827.9 386.9,810.3 503.2,810.3 330.9,790.9 435.4,821.6 432.1,835.2 526.7,754.3 374.5,801.5 338.7,799.4 516.1,719.5 467.3,817 346.8,799.4 450.9,808.9 454.7,824.7 441.4,823.2 438.5,821.3 368.1,805.8 500,813.3 384.3,819.4 494.2,755.1 482.2,801.6 441.6,817.7 473,815.2 471.4,813.5 550.9,759.4 470.3,795.8 473.6,816.7 498.7,753.4 514.8,712.4 414,835 482.1,811.7 433.6,826.2 483.3,781.1 461.6,824.7 341.6,756.9 508.9,803.6 442.8,823.1 336.5,807.6 488.7,749.7 447.8,829.8 466.9,809.5 442.1,820.5 497.2,743.4 317.4,784.3 358.2,810.3 396.6,828.5 484.6,803.2 378.8,810.6 480,766.2 467.2,812.2 455.7,812.1 449.5,815.5 459,818.8 386.7,815.8 443.2,832.9 501.6,784.6 491.5,806.5 445.8,819.2 322.3,785.3 359.9,806.3 499.5,731.3 543.9,760.2 366.4,820 359.1,797.6 402.7,831.5 401.6,830.7 405.1,833.1 488.3,766.1 450.1,811.5 446.9,818.7 488.2,814.7 428.2,829 463.5,800.4 392.9,819.6 481.1,766.1 535.8,765.5 496.7,813.5 375.9,824.3 488.4,819.7 450.8,814.2 401.9,834.3 548.1,758.6 402.1,827.9 448.1,815.7 480.6,792.9 500.1,792.1 493.8,788.6 482.4,783 461.8,803.2 360.2,797.8 498.9,732.6 399.3,827.3 374.7,818 446,815.1 356.4,808.9 357.7,818.7 500.8,809.7 484.7,807.2 451.3,814.2 383.7,817.1 442.5,827.6 447.2,828.1 449.9,813.4 462.8,798.7 453.1,821.8 439.3,829.2 354.8,795.9 442.2,821.8 520.9,803.3 421,835.8 461.4,796.9 513.6,719.1 439,820.1 496.3,769.3 394.8,830.4 432.1,834.8 457.6,821.2 428.1,831.3 400.2,830.9 344.4,777.1 447,817.9 376.1,819.8 468.7,824.7 513,712.1 460,818.1 371.6,806.8 453.9,811.9 432.4,825.6 446.6,832.1 386.3,815.7 330.8,805.1 402.9,830.1 470.7,790.9 436.4,825.4 472.4,811.4 438.5,832.9 362.3,785.6 476.9,809.3 414.7,835.4 339.7,788.5 469.7,821.2 354.2,806.1 389.7,826.6 345.6,814.9 368.4,812.2 469,808 340.4,779.9 480.2,784.1 404.2,835 530.8,765.5 401,834 357.7,801.1 361.3,821.4 476.5,772.3 498.3,815.1 323.1,804.6 469.5,810.9 402.3,828.6 470.7,817.7 484.4,798.8 437.7,832.8 372.5,806.7 447.4,831.8 466,800.6 512.6,725.6 316.6,801.8 474.7,799.8 396,825.3 361.7,816 502.4,733 467.3,815.9 457.6,809 474.7,778.2 421.8,834.9 433.6,830 503.1,800.8 411.4,834.2 512.9,801.9 453.1,822 448.8,831.9 462.9,818.2 517.9,764.2 400.7,832.4 450.1,818 488.6,806 445.8,817.1 481.3,796.9 387,820.4 453.7,807.7 437.8,820.4 441.4,826.6 432.8,833.5 454.7,811.2 462.3,802.1 358.4,818.7 451.3,813.5 354.7,802.6 388.7,828.8 480.4,803.2 502.2,744.7 398.6,830.9 457.3,813.6 389.6,828.2 385.2,819.7 439.3,817.9 548,760.9 466.7,791.2 445,826.8 457.6,808 440.5,830.4 461.3,796.3 442.9,815.2 431,830.7 494.7,814.5 550.8,784.8 385.6,816.3 470.6,818.3 447.7,810.3 401.8,826.9 438.4,831.8 469.3,793.6 497.9,724.5 482.6,795.8 436.1,821.7 463.8,823.1 337.5,772.2 492.4,797.2 489.4,790.5 350.7,783.4 454.4,810.7 536.7,790.7 481.6,803.9 434.2,823 317.9,801.6 458.7,818.5 503,771.7 405.5,828.3 400,826.3 416.9,835.7 535,793.5 440.9,822.3 437.4,827.5 377.6,825.6 520.5,770.9 393.2,825.9 391.2,830.1 406.5,832.4 516.5,797.6 442.1,819.7 525.2,775.1 485.4,802.9 369.2,790 450.8,811.6 384.2,826.7 428,835.3 360.9,814.4 476.7,813.3 474.2,814.1 446.5,821.5 425.7,833.5 455.3,821.4 382.1,814.4 515.2,704.6 469.9,805.5 445.3,823.5 435.7,825.6 425.7,832.7 521.1,767.8 448.8,826.4 530,764.5 512.1,765.6 437.7,828.9 435.9,833.1 330.6,806.1 448,812.7 382.7,815.5 516,788.4 299.3,794.4 478.9,814.8 345,796.4 360.6,800 402.4,833.3 433.9,835.9 433.4,827 497,810.2 480.4,772.7 458.1,824.8 362.7,819.1 458.6,824.6 503.4,795 482.3,793 361.5,818.3 413.9,835.8 494.6,789.2 385.9,817.1 405.4,830.7 445,829.5 442.7,828.6 442.7,826.9 368.9,818.1 499.8,813.5 400.9,828.6 460.9,798.9 498.4,744.3 489.1,800.1 388.9,822.7 473.2,805.8 391.7,829 400.2,828.7 516.7,787.6 319.9,772.4 466.1,826.2 458.9,803.4 393.2,824.1 444,829.1 482.6,800.6 363.8,791.8 433,831.4 502.9,713.3 465,818.7 487.1,786.6 430.3,827.4 269.7,627.4 269.7,647.2 292.1,689.3 295.9,689.3 315.2,682.8 316,697.6 313.7,716.6 323.9,717.8 187.7,714.7 203.3,726.5 223,743.2 237.8,752.7 249.6,766 260.9,779.6 269.7,768.6 278,776.6 278,793.7 265.1,731.4 277.6,742.8 292.1,746.2 306.9,730.3 321.3,735.6 331.9,730.7 333.4,740.2 347.1,743.9 304.2,757.2 301.6,766.3 322,757.2 294.7,784.2 299.7,793.7 574.4,650.6 624.1,650.2 654.1,692.3 586.5,698.4 574.4,727.2 606.3,742.4 586.2,759.1 577.4,767.5 613.1,766 613.1,768.2 560.4,732.9 563,740.2 567.6,743.2 562.2,748.9 559.2,780 566,789.1 527,662.4 530,673.7 533.8,674.9 537.6,676.8 532.6,683.6 525.8,686.3 530,693.1 511,693.1 511,694.6 542.1,737.5 540.2,745.1 536.4,743.2 531.9,743.9 527,725 525.1,733.7 517.5,739.4 514.4,742.4"/>
<circle cx="562.9" cy="495.6" r="3.05" fill="#f2334d" stroke="#c61f3b" stroke-width="1.1"/>
</g>
<g font-family="'Liberation Sans', sans-serif">
<text transform="translate(149.8 844.6) scale(1.1 1)" font-size="21.2" font-weight="bold" text-anchor="end" fill="#000">0</text>
<text transform="translate(149.8 778.8) scale(1.1 1)" font-size="21.2" font-weight="bold" text-anchor="end" fill="#000">1</text>
<text transform="translate(149.8 713.0) scale(1.1 1)" font-size="21.2" font-weight="bold" text-anchor="end" fill="#000">2</text>
<text transform="translate(149.8 647.2) scale(1.1 1)" font-size="21.2" font-weight="bold" text-anchor="end" fill="#000">3</text>
<text transform="translate(149.8 581.4) scale(1.1 1)" font-size="21.2" font-weight="bold" text-anchor="end" fill="#000">4</text>
<text x="149.1" y="503.6" font-size="20" font-weight="bold" text-anchor="end" fill="#7d7d7d" textLength="118.5" lengthAdjust="spacingAndGlyphs">FDR P&lt;0.01</text>
<text transform="translate(277.7 867.1) scale(1.09 1)" font-size="21.2" font-weight="bold" text-anchor="middle" fill="#000">-0.1</text>
<text transform="translate(416.2 867.1) scale(1.09 1)" font-size="21.2" font-weight="bold" text-anchor="middle" fill="#000">0</text>
<text transform="translate(553.7 867.1) scale(1.09 1)" font-size="21.2" font-weight="bold" text-anchor="middle" fill="#000">0.1</text>
<text x="416.5" y="896.7" font-size="21" text-anchor="middle" fill="#222" textLength="158.5" lengthAdjust="spacingAndGlyphs">Mean Difference</text>
<text transform="translate(18.8 651.5) rotate(-90)" font-size="21.5" text-anchor="middle" fill="#222" textLength="91.5" lengthAdjust="spacingAndGlyphs">Logworth</text>
</g>
<line x1="153.0" y1="1298.5" x2="160.5" y2="1298.5" stroke="#b2b2b2"/>
<line x1="160.5" y1="1248.71" x2="674.5" y2="1248.71" stroke="#dbdbdb"/>
<line x1="153.0" y1="1248.71" x2="160.5" y2="1248.71" stroke="#b2b2b2"/>
<line x1="160.5" y1="1198.92" x2="674.5" y2="1198.92" stroke="#dbdbdb"/>
<line x1="153.0" y1="1198.92" x2="160.5" y2="1198.92" stroke="#b2b2b2"/>
<line x1="160.5" y1="1149.13" x2="674.5" y2="1149.13" stroke="#dbdbdb"/>
<line x1="153.0" y1="1149.13" x2="160.5" y2="1149.13" stroke="#b2b2b2"/>
<line x1="160.5" y1="1099.34" x2="674.5" y2="1099.34" stroke="#dbdbdb"/>
<line x1="153.0" y1="1099.34" x2="160.5" y2="1099.34" stroke="#b2b2b2"/>
<line x1="160.5" y1="1049.55" x2="674.5" y2="1049.55" stroke="#dbdbdb"/>
<line x1="153.0" y1="1049.55" x2="160.5" y2="1049.55" stroke="#b2b2b2"/>
<line x1="160.5" y1="999.76" x2="674.5" y2="999.76" stroke="#dbdbdb"/>
<line x1="153.0" y1="999.76" x2="160.5" y2="999.76" stroke="#b2b2b2"/>
<line x1="160.5" y1="949.97" x2="674.5" y2="949.97" stroke="#dbdbdb"/>
<line x1="153.0" y1="949.97" x2="160.5" y2="949.97" stroke="#b2b2b2"/>
<g shape-rendering="crispEdges">
<line x1="196.5" y1="930.5" x2="196.5" y2="1298.5" stroke="#dbdbdb"/>
<line x1="306.5" y1="930.5" x2="306.5" y2="1298.5" stroke="#dbdbdb"/>
<line x1="527.5" y1="930.5" x2="527.5" y2="1298.5" stroke="#dbdbdb"/>
<line x1="638.5" y1="930.5" x2="638.5" y2="1298.5" stroke="#dbdbdb"/>
<rect x="160.5" y="930.5" width="514.0" height="368.0" fill="none" stroke="#b2b2b2"/>
<line x1="673.5" y1="930.5" x2="673.5" y2="1298.5" stroke="#c6c6c6"/>
<line x1="196.5" y1="1298.5" x2="196.5" y2="1306.0" stroke="#b2b2b2"/>
<line x1="306.5" y1="1298.5" x2="306.5" y2="1306.0" stroke="#b2b2b2"/>
<line x1="527.5" y1="1298.5" x2="527.5" y2="1306.0" stroke="#b2b2b2"/>
<line x1="638.5" y1="1298.5" x2="638.5" y2="1306.0" stroke="#b2b2b2"/>
<line x1="251.5" y1="1298.5" x2="251.5" y2="1303.0" stroke="#b2b2b2"/>
<line x1="361.5" y1="1298.5" x2="361.5" y2="1303.0" stroke="#b2b2b2"/>
<line x1="472.5" y1="1298.5" x2="472.5" y2="1303.0" stroke="#b2b2b2"/>
<line x1="582.5" y1="1298.5" x2="582.5" y2="1303.0" stroke="#b2b2b2"/>
</g>
<line x1="417.0" y1="930.5" x2="417.0" y2="1306.0" stroke="#4a4a4a"/>
<line x1="153.0" y1="1062.6" x2="160.5" y2="1062.6" stroke="#5a5a5a"/>
<line x1="160.5" y1="1062.6" x2="674.5" y2="1062.6" stroke="#5a5a5a" stroke-dasharray="2.5 2.1"/>
<g clip-path="url(#clipc)"><polyline fill="none" stroke="none" marker-start="url(#m)" marker-mid="url(#m)" marker-end="url(#m)" points="484,1277.3 433.9,1294.2 446.4,1278.1 366.1,1279.5 374.1,1257.7 436.9,1294.2 413.1,1296.8 343.3,1253.5 458.2,1263.3 485.5,1259.1 456.8,1269.5 423.8,1295.6 403.6,1289 472.7,1263.2 391.3,1278.6 347.7,1267.3 501.8,1244.9 443.3,1280.6 433.3,1297 502.8,1234.8 449.9,1274 445.9,1276.2 377.3,1285.8 392.3,1281.2 442.6,1293.5 387.3,1266.1 381.8,1288.2 371.5,1268.7 390,1275 353.1,1262.1 393,1291.3 515.9,1259.6 502.9,1250.1 482.8,1270.8 446.6,1288.5 375.7,1282.8 346.7,1250.9 389.1,1289.6 399.4,1290.6 343.8,1277.8 507.1,1247.1 440.7,1293.4 393.5,1283.7 353.6,1267.9 496.4,1242.8 379.5,1258.2 432.3,1289.3 373.9,1283.1 485.7,1243.8 443.3,1285.5 366.6,1288 436.1,1287.5 335.5,1277.7 396,1286.4 435.1,1294.8 409,1297.2 449.9,1282.5 480.3,1257.8 342.4,1258.1 430.6,1287.8 401.1,1296 318.4,1245.6 396.5,1284.4 374.5,1279.9 463.5,1277 344,1252.5 453.8,1266.9 346.8,1245.2 423.2,1297 475.7,1234.4 360.4,1228.6 398.6,1291.3 477.5,1272.4 397,1280.8 435.5,1295.7 388.3,1286.7 411.7,1296.8 372.4,1282.5 459,1273.5 394.5,1284.2 388.9,1294.1 360.8,1264.7 352.5,1262.4 466,1276.2 428.7,1294.4 387.7,1294.1 398.5,1279.1 324.6,1252.2 467.8,1269.5 411.5,1295.5 405.4,1293.7 449.7,1291.3 391.6,1291.8 403.9,1298.1 378.2,1283.4 357,1230.6 392.2,1285 500.1,1252.1 389.5,1292 392.3,1273.4 391.6,1295.4 427.9,1289.9 351.2,1268.7 455.6,1284.4 385.5,1288.4 399.5,1297.8 439.9,1283.6 440.8,1294.1 430,1297.2 450.3,1271.4 404.9,1287.1 323.9,1251.4 400.8,1287.5 454.8,1273.7 502.3,1250.4 477.1,1231.5 414.9,1297.4 443.2,1291.1 389.4,1278.5 425.1,1294.9 399.7,1295.4 462.1,1266.8 405,1293 329.3,1273.1 389.1,1289.9 455.7,1284 511.5,1257.6 522.3,1257.5 389.9,1274.6 443.4,1278.7 395.3,1294 354.3,1275.2 445.4,1281.1 396.6,1286.7 365.7,1285.3 349.6,1237 450.2,1275.3 498.8,1251.2 378.3,1280 466.3,1268.5 391.2,1284.5 499.6,1230.2 394.8,1282.2 475.2,1263.7 454,1289.1 389.9,1293.3 410.4,1296.1 472.1,1265.9 488,1239 386.9,1273.3 470.1,1258.8 406.3,1289.3 361.7,1264.5 471.4,1277.3 406.4,1291 405.1,1295.7 409.4,1295.6 376.2,1255.1 492.2,1256.4 385,1283.2 442.6,1292.5 411.2,1293.4 537.4,1250.5 461.7,1267.2 385.7,1268.6 427.5,1296.9 441.9,1286.3 393.1,1295 398.7,1284.8 357.2,1284.2 413.3,1296.7 510.3,1259.6 388.7,1282.2 456.7,1278.7 425.6,1297.4 448.3,1275.3 443,1288.4 445.4,1280.4 380.1,1270.9 334.6,1277 510.5,1245.8 339.8,1276.7 523.9,1249.3 464.8,1263.9 477.1,1233.8 447.5,1272.7 355.3,1268.7 404.8,1287.3 466.6,1281.9 477.5,1273.4 387.1,1290 517.8,1255.5 504.7,1248.1 430.6,1291 391.2,1289.4 381.4,1278.5 447.3,1278 432.1,1287 474.7,1245.4 352.4,1236 403,1296.3 382.9,1273.1 401,1286.5 439.3,1285.9 427.1,1295 405.5,1290.9 388,1282.9 412.3,1297.6 510.6,1265.9 458.2,1280.7 395.6,1293.1 407.8,1292.5 401.2,1296.5 437.6,1293.4 429.5,1290.9 464.5,1287.2 427.3,1291.7 425.8,1295.8 395.3,1289.3 349.2,1247 447.3,1270.4 346.4,1278 436.7,1284.1 382.2,1277.1 356,1241.5 476.1,1264 474.1,1276.4 395.8,1294.1 447.6,1281.1 373.3,1255.2 341.2,1264.9 494.2,1249.6 391.5,1290.8 459.9,1262.5 404.3,1295.1 385.8,1270.2 353.7,1271.4 407.5,1291.4 501.8,1242 430.6,1294.1 470.2,1250.5 453.3,1285.6 331.2,1245.2 389.4,1291.5 389.9,1283.5 373.9,1278.4 384.3,1285.7 407.7,1296.2 342.5,1256.8 346.7,1257.1 396.2,1286.7 473.8,1264.8 514.1,1262.3 466.8,1280.2 400.3,1288.2 401.8,1290.9 427.7,1297.6 436.3,1287.5 408.3,1295.4 462.5,1253.1 402.2,1284.1 469,1282.7 433,1296.8 379.6,1258.3 421.8,1297.6 433.4,1295.9 332.6,1273.4 381.4,1262.3 348.4,1254 424.8,1296.4 352,1239.9 468.9,1254.6 451.4,1282.9 403.5,1292.9 382.7,1277.2 398,1297.2 390.6,1290.6 371.4,1271.6 365,1276.1 441.8,1293.4 486.8,1238.2 518.7,1248.6 395,1296.6 408.8,1292.2 472.5,1269.9 436.8,1288.3 491.6,1259.2 338.5,1259 435.8,1289.4 497.2,1238.9 511.2,1265.8 392.4,1281.8 349.2,1224.1 437.3,1294 523.2,1251 401.3,1288.4 465.6,1257.6 429.9,1287.8 403.2,1295.3 403.7,1291.1 386.6,1270.9 387.7,1271.7 389.2,1283 403.2,1293.2 447.3,1284.7 468.3,1241.7 345.1,1224.3 323.2,1267.3 485.8,1276.5 428.2,1296.9 404.9,1287.2 399.1,1284.6 465.9,1285.5 376.4,1258 333.3,1256.3 401.5,1290.6 518.5,1234.9 440.1,1280.5 410.3,1297.8 439.1,1278.6 456.8,1269.1 426.4,1298 371.7,1260.2 435.5,1286.7 397.7,1293.8 451,1278.6 366.4,1267.7 425.1,1295.6 378.2,1291.4 399.7,1291 470,1267.2 431,1292.5 388.4,1283.7 371.1,1281.3 389.3,1285.4 429.2,1294.3 464.2,1264.3 448.2,1288.1 391.1,1279 404.7,1286.4 405.5,1288.8 452.1,1288.6 436.9,1292.1 494.2,1256.4 431.4,1290.4 432.3,1291.5 429,1295.4 378.3,1272.2 433.6,1284.7 439,1279.3 444.1,1286 387.7,1279.9 435.9,1293.8 366.8,1275 472.8,1276.4 453.4,1288.2 396.5,1282.1 423.7,1294.7 367.3,1243.8 464.3,1282.2 531.5,1251.7 431.5,1287.4 444.6,1280.2 390.7,1270.4 461.5,1286.9 406.4,1289.3 429.1,1296.5 381.4,1276.2 366.3,1287.1 351.2,1235.1 388.5,1278 385.3,1280 378.4,1281.2 447.6,1291.2 396,1285.5 466.8,1279.7 376.4,1282.8 331.7,1255 413.9,1297 438.9,1288.2 386.8,1270.2 426.2,1297.7 433.9,1284.3 448.9,1290 435.1,1295.1 449,1284.1 441,1280.5 445.5,1288.7 400.5,1294.3 446.6,1288.8 388.8,1276.8 398,1281.8 367.1,1280 410.2,1296.5 472.7,1263.7 331.3,1255.6 398.6,1281 495.5,1254.3 390.6,1293.5 347.6,1222 373.7,1282.9 372.9,1271.9 429.9,1295.3 394.3,1294.3 465.4,1241.8 359.8,1273.5 499.9,1252.5 426,1297.1 391.7,1292.9 432.7,1288.8 395,1280 388.6,1286.9 511.4,1243.5 396.2,1295.7 449.2,1292.4 429.2,1291.3 399.9,1296.6 411.3,1297 443.2,1282.5 387.4,1270.5 329.6,1250.5 319.3,1260.9 374.4,1256.9 428.6,1295.4 361.9,1261.2 367.9,1268.4 442.9,1284.6 333.1,1240.5 425.8,1297.2 438.1,1291.2 386,1269.7 357.1,1226.9 441.6,1277.9 392.4,1279.7 333,1248.5 348.7,1252.7 398.5,1291.5 450.9,1287.2 425.6,1295.6 316.1,1251 408.1,1297 482.7,1248.5 446.1,1281 382.1,1278.1 452.5,1273.7 488.1,1266 381.7,1289.9 446.6,1290 509.4,1242.6 521,1256.4 434.1,1297.2 398.1,1289.3 444.8,1290.7 395.1,1291.9 453.1,1273.1 506,1247.2 412.3,1297.5 393.7,1284.6 378.7,1288.5 461.1,1274.2 437.5,1284 459.7,1275.6 435.9,1288.3 412.2,1294.7 388.9,1269.9 392.1,1294.4 436.7,1292.7 345.7,1269.9 496.2,1243.8 436.6,1292.1 451.2,1270.5 436.3,1289.5 399.4,1290.2 340,1243 321.5,1260.2 454.1,1264.3 325.9,1271.2 345.9,1265.2 389.5,1279.9 389.1,1290.5 384.2,1285.4 428.4,1297.1 377.3,1259.3 380.1,1266.8 449.4,1276.3 482.2,1266.5 325.7,1253.8 405.5,1289.1 384.2,1288.8 427.1,1297.8 437.1,1291.5 537.2,1250.6 465.4,1283.1 508.9,1264 480.5,1228.4 467.7,1278.3 412.4,1294.7 360,1240.6 454.2,1291.1 379.1,1270.7 352.4,1227.7 430.3,1293.8 399.7,1294.4 459.8,1268.9 432.2,1291.5 363.6,1268.4 439.8,1285.5 432.2,1287.2 363,1267.4 391.7,1281.5 384.3,1292.8 450,1286.5 376.4,1291 483.9,1270.8 352,1257.9 351.3,1267.8 477.5,1236.2 330.4,1253.2 379.5,1273.7 370.4,1248.8 358.9,1250.2 397.4,1286.2 472.4,1243.3 411.7,1297.3 401,1291.5 421.3,1296.8 385.8,1265.6 381.5,1269.2 388.8,1286.5 444.5,1290.8 399.3,1297.4 470.3,1251.1 502.5,1236.2 343.2,1268.1 369.7,1288.4 353.1,1229.8 443.9,1284.7 341.2,1277 431.6,1293.3 409.1,1297.1 461.1,1286.8 491.9,1258.4 383,1274.5 521.5,1251.5 354.9,1265.7 409,1293.5 392.4,1288.2 394.2,1295.3 420.2,1297.3 409.4,1296.1 435.8,1293.3 492.9,1243.4 357.4,1270.7 330.3,1272.1 390.3,1286.1 437.6,1295 372.9,1268.6 340.2,1277.7 464.4,1273.1 381.2,1267.5 392,1293.7 397.7,1288.3 337.6,1252.7 327.7,1257.4 454.2,1264.1 379.8,1257.1 455,1288.6 375.7,1289.9 465,1272.7 390.8,1294.4 387,1278.2 400.8,1293.9 387.3,1267.8 457,1267.3 446,1281.1 428.6,1290.4 393,1286.5 319.6,1269.2 407.5,1292.3 406.1,1294.2 448,1270.5 440.4,1295.3 387.6,1277.9 399.2,1288.8 426,1297.2 454.1,1290.1 513.7,1258.9 393.6,1289.1 371.2,1267.8 389.2,1278.4 329.1,1271.6 498.2,1254.6 424.8,1295.6 437.7,1293.4 409,1291.9 398.2,1280.5 361.3,1253.6 384.7,1285.7 448.3,1285.8 335,1257.6 429.7,1297.2 458.5,1274.9 483.3,1238 438.1,1287.2 454.5,1275.2 472.3,1239.6 480.8,1238.4 331.4,1273.3 408.1,1292.1 362.4,1273.4 367,1276.9 432.4,1286.2 438.6,1287.6 383.2,1273.3 373.2,1253.7 459.4,1259.4 435.8,1295.9 392.8,1288.7 449.4,1290 424.8,1294.8 397.6,1288.8 468.3,1262 466.9,1272 443.2,1280.3 388.8,1294 398,1278.5 410.4,1296.4 374.4,1277.5 381.2,1284 431.5,1289.3 441.5,1292.6 389.4,1282.2 467.3,1273 413.1,1296.7 398,1290 434.4,1295.1 383,1289.3 377.7,1279.4 447.2,1280.7 461.8,1284.5 410.3,1294 507.1,1236.7 451.2,1275.8 434.1,1287.2 359.1,1264.6 375.9,1272.3 472.5,1233.6 448.9,1270.1 452.7,1285.2 367.2,1270.3 384.9,1287.8 442.8,1294.8 436.6,1287.3 473.7,1272.6 464,1271.4 387,1273.7 358.3,1241.9 391.9,1292.7 382.6,1278.7 479.3,1269.7 442.5,1294.1 377.9,1274.8 458.2,1272.2 405.2,1293.4 507.9,1232.4 398.9,1285.7 351.5,1231.7 372.7,1285.1 444.7,1284.1 320.7,1246.9 367.9,1267.6 458.5,1263.3 440.2,1292.2 349,1268.7 397.8,1278.7 463.3,1247.4 383.2,1280.1 478.8,1267.5 396.5,1293.4 406.5,1288.7 394,1294.3 392.1,1278.7 385.4,1275.8 428.2,1292.7 338.5,1241.1 375.6,1276.1 365.4,1273.7 321.8,1272.2 366.4,1256.3 475,1253.5 476.1,1266.8 376.8,1276.3 463.6,1279.9 396.6,1281.4 519.5,1257.6 395.7,1283.8 413.7,1295.8 467.9,1283.5 440.9,1283.4 454.6,1281.2 412,1294.6 430.7,1297.8 426.5,1292.3 451,1280.1 447.6,1290.4 384.4,1270.6 445.7,1292.3 402.4,1283.8 458.5,1271.3 428.7,1292.1 352.5,1268.3 385.1,1292.4 381.4,1281.4 505.3,1247.9 430,1288.6 463.1,1276.9 466.8,1282.9 398.9,1286.9 395.8,1291.3 359.7,1284.2 429.6,1291.5 472.6,1273.6 399.7,1282.8 401.3,1287.8 451.1,1280 394.2,1277.9 363.4,1243 380.6,1287.6 348.4,1268.6 402.2,1294.8 432.8,1287.1 370.8,1269.8 464.8,1284 397,1287.6 445.9,1271.8 475,1263.9 444.6,1287.2 456.9,1283.7 333,1258.1 468.9,1238.3 357.7,1243.4 443.6,1288.7 376.4,1263 371.8,1267.5 436.8,1289.7 393.6,1285.2 457,1288.8 385,1283.4 338.7,1260.4 430,1287.9 426.9,1295.1 456.2,1283.2 357.7,1264.9 479.6,1273.3 446.4,1284.5 447.6,1291.6 402.1,1286.1 382.3,1289.3 426.3,1291.9 443.2,1287.7 350.8,1225.4 451,1287.1 435.4,1289.8 393.9,1290.7 385.6,1277.7 475,1263.5 435.1,1292.9 390.8,1279.7 433,1293.5 334.1,1258.5 493.1,1240.6 472.4,1235.8 401.7,1292.1 388.9,1283.4 413.5,1296.9 402.2,1284.2 343.8,1267.3 373,1288.2 461.1,1259.4 404.4,1291.6 360.4,1275.9 431.8,1298.1 380.8,1286.4 489.6,1270.1 384.3,1287 381.6,1289.1 434.5,1285.8 403.9,1293.9 458,1268.3 354.7,1251.3 366.8,1274.6 388.1,1278.4 461.1,1258.7 384.9,1270.2 339.2,1241.3 380.5,1279.4 451.6,1279.3 415.5,1297.7 478.3,1271.6 394.3,1281.5 367.1,1257.9 376.3,1273.1 370.4,1257 393.9,1292.3 475.1,1269.8 401.7,1297 461.3,1275.1 408.8,1291.7 433.7,1296.5 404.9,1287.7 489.7,1258.6 445.5,1281.3 495.1,1234.1 400.3,1288.8 394.1,1276.5 399.4,1286.2 378.2,1280.4 513.5,1254.4 433.2,1287.2 347.6,1265.1 389.4,1274.4 382.6,1291.5 378,1280.7 427.4,1295.7 464.9,1282.5 432.7,1292.8 393.7,1293.8 400.5,1297.9 451.7,1284.8 378.3,1268 390.8,1282.5 440.3,1279 401,1292.4 358,1223.7 468.8,1240.9 403.6,1284.8 402.3,1293.6 399.2,1282.2 460.9,1257.8 365.8,1278.2 429.3,1288.7 440.8,1286.9 361.6,1241.1 439.5,1292.3 440.3,1287.2 400,1294.2 444.9,1273.9 378.3,1283.2 372.3,1269.9 388.8,1294.1 389.8,1276 392.8,1274.9 323,1271.2 377.8,1273.1 355.3,1255.5 455,1270.9 444.9,1275.5 339.3,1276.1 464.1,1257.8 391.9,1276.9 348.4,1256.3 459.3,1279.9 397.7,1282.2 381.5,1284.4 392.6,1291 450.4,1281 441,1284.4 435.1,1294.3 393.4,1278.3 456.9,1278.6 465.3,1260.4 473.5,1254.3 463.3,1287.8 389.8,1295.2 450.6,1288.5 356.4,1265.9 428.4,1297.8 405.4,1292.9 324.7,1251.6 446.2,1285.4 427.1,1293.3 396.7,1287.8 504.1,1251.2 439.3,1290.1 508.2,1234.1 433.2,1286.7 348.1,1225.3 380.2,1281.5 320.7,1261 460.7,1258.6 483.4,1269.2 520.3,1258 451.6,1286.8 454.1,1268.9 380.1,1291.7 457.5,1287.7 410.3,1293.8 352.7,1277 443.8,1286.3 444.7,1288.7 438.1,1285.8 496.2,1241 384.8,1292.8 372.3,1250.5 403.8,1295.6 453.6,1281.4 441.4,1278.3 427.8,1296.1 390.6,1293.1 441.3,1285.3 370.2,1284.5 369,1266.9 389.7,1293.3 394.3,1293.2 399.2,1294.6 457.6,1285.7 380.1,1281.2 437.2,1294.8 413,1295.5 397.8,1280.8 414,1297.7 375.4,1281.4 448,1278 384.3,1289.7 394.4,1293.5 398,1293.7 391,1283.5 453.5,1288.2 394,1291.1 371.2,1252.5 405,1292.7 469.6,1271.9 477.2,1271.7 457.4,1275.1 390.1,1280.7 388.6,1293 450.9,1287.1 434.1,1287.3 475.1,1245.7 355.5,1248.4 493.1,1233.9 372.3,1248.2 470,1267.3 378.2,1260.9 397.9,1285.4 436.2,1293.6 380.9,1265 377.9,1288.3 392.8,1289.5 447.2,1293.2 382.5,1283 447.5,1281.8 393.9,1274.1 465.9,1278.8 521.4,1257.8 448.4,1287.5 471,1259.2 386.1,1288 362.7,1239.4 389.3,1288.9 453.5,1277.9 400.4,1292 438.5,1280.7 434.5,1285.9 401.8,1294.8 445.7,1280 411.6,1294.9 448.4,1282.9 422.6,1298 488,1238.5 398,1290.2 392.7,1293.3 353.2,1237.4 485.9,1253.6 388.5,1280.3 445.6,1274.2 510.3,1237.7 385.1,1268.8 430.1,1288.2 407.8,1294.7 352.3,1227.2 498.6,1252.6 407.4,1297.9 403.7,1285.2 471.1,1277.3 378.9,1287.7 399.6,1286.7 340.6,1253.7 516.8,1256 405.3,1293.4 393.7,1276.7 408.1,1298 390.4,1282.1 390.8,1292.9 444.2,1284.2 400.7,1286.7 459,1272.7 484.8,1237.6 380.9,1266.7 352.1,1228.5 386.3,1275.4 378.6,1290.8 434.5,1290 451.4,1274 447.1,1271.4 466.6,1283.9 511.8,1259.4 387.4,1289.2 459.8,1274.3 430.7,1288.1 517.7,1259.5 399.8,1292.1 402.1,1290.9 473.8,1274.1 314.7,1268.1 404.1,1289.4 404.3,1287.7 510.9,1244.9 467.3,1270.2 334,1255.8 366.5,1278.6 339.5,1231 387.9,1294.5 401.3,1283.4 486.5,1248.3 339.2,1249.5 324.5,1249.9 450.9,1290.7 451.5,1283.5 433.3,1286.2 512.4,1265.2 461.7,1283.4 317.5,1245.7 392.4,1285.2 467.7,1269.9 433.2,1292.8 371.1,1275.2 448.3,1271.5 426.9,1293.9 511.4,1264 391.2,1294.1 393.3,1276.8 392.5,1290.7 432.9,1287.3 429.1,1296.4 389.1,1279.8 427.6,1291.7 393.2,1275 438.6,1285.4 429.3,1290 451,1282.2 382.1,1284.7 449.6,1285.5 425.4,1295.3 436.3,1293.4 451,1273 408.8,1297.2 441.5,1284.2 472.4,1234.9 445.3,1272.7 380.8,1281.8 450.1,1280.2 437,1284.6 429.3,1291.5 372.6,1284.1 356.3,1275.9 466.9,1278.8 436,1291.6 440.2,1295.6 452.4,1291.7 457.6,1281.3 348.7,1226 402.3,1296.7 390.2,1286.5 483.6,1256.9 452.7,1286.2 454.4,1286.2 427.1,1297 376.3,1287.9 367.6,1258.5 356.1,1225.8 397.3,1293.9 495.8,1231.7 345.5,1264 340,1260.8 401.4,1286.6 445.5,1281.8 477.8,1255.5 437.5,1284.5 485.1,1240.4 441.5,1293.7 380.6,1272.1 450.5,1267.9 405.2,1286.7 488,1270.4 353.6,1280.3 395.6,1296.1 458.5,1281.2 433.8,1293.5 440.6,1286.4 385.2,1292.6 408.3,1297.3 384.7,1291.2 387.2,1290.9 313.9,1265.4 437.2,1295.8 421.8,1297.4 373.6,1271 448.8,1279.6 383.6,1280.1 405.4,1292.8 405.5,1294.5 432.6,1294.7 437.9,1290.5 434.7,1295.6 314.8,1266.7 386.7,1274 380.5,1283.5 375.2,1274.2 403.8,1289.4 403.7,1284.8 431,1291 508.2,1240.9 344.3,1238.2 332.3,1254.4 375.4,1277 379.9,1285.2 388.8,1291.3 409,1296.4 450.6,1281 458.1,1289.1 399.9,1285.6 442.2,1283.3 380.3,1273.9 432.3,1295.4 493.5,1244.9 524.9,1249.7 396.7,1289.4 495.2,1255.9 391.1,1294.6 495.4,1255.5 387.3,1292.5 444.5,1282.8 435.8,1286.3 444.6,1274.3 342.5,1264.9 386,1284.8 359.7,1273.4 375.8,1284.7 359.9,1242.1 424.3,1294.2 407.3,1293.7 376.1,1259.8 380.9,1267.2 398.8,1294.9 399.6,1286.1 430,1294.9 452.8,1270.1 446.1,1284.6 367.1,1261.9 321.2,1251.7 376.6,1267.4 447,1288.7 400.3,1297.4 402.5,1296.5 348,1270.2 368.4,1270.1 430.2,1295.6 490.5,1258.4 460.7,1276.5 321.3,1269 468.2,1279.9 387.5,1290.6 410.6,1296.1 442.1,1292.9 385.8,1285.4 423.6,1296.1 396.6,1286.1 478.3,1270.4 436.8,1295.3 355,1226.3 440.7,1295.2 360.2,1239.3 471,1260.7 443.7,1287.1 501.8,1251 366.3,1285.7 381.5,1278 465.2,1279.6 336.6,1258.9 446.6,1293.6 430,1296.8 335.5,1259.1 396,1283.3 435.3,1288.9 441.5,1295.2 435.2,1294.2 509.5,1246.1 400.1,1294.4 398.6,1279.4 340,1275.5 399.4,1291.6 401.5,1291.9 355.4,1269.5 339.3,1263.6 354.6,1225.3 354.6,1258.3 404.7,1286.8 427.1,1297 344.3,1274.6 401.5,1283.7 517.4,1249.2 407.8,1296.4 382,1289.9 440.3,1287.3 417.8,1298.2 436.6,1296.1 450.5,1280.5 389.3,1272.4 445.2,1291.4 278.8,1077.6 312.2,1112.5 319.4,1125.4 179,1137.2 201,1167.1 265.9,1166 307.2,1151.6 294.7,1182.3 284.5,1188.8 289,1191 299.7,1188 310.3,1192.6 316.4,1186.5 319.4,1188.8 319.8,1194.5 318.3,1200.2 261.7,1208.9 270.1,1207.7 307.2,1203.9 302.3,1208.9 296.6,1212.7 308,1212.7 309.9,1216.5 323.2,1208.9 325.1,1214.6 328.9,1220.3 337.2,1212.7 343.7,1203.2 343.7,1209.6 349.8,1210.8 278,1223.3 294.7,1226 303.5,1225.2 307.2,1227.1 315.6,1224.8 316.4,1229.8 290.9,1233.5 296.6,1230.9 275,1235.4 282.2,1240.4 287.1,1241.1 277.6,1243.8 290.9,1246.8 281.4,1249.9 296.6,1250.6 302.3,1250.6 295.5,1259.4 302.3,1254.4 308,1256.3 311,1258.2 311,1240 311.8,1233.5 316.4,1235.4 321.3,1240.4 311,1250.6 538.3,1073.8 617.3,1084.4 525.8,1104.1 538.7,1106.4 541.4,1134.1 553.5,1135.3 585.8,1134.9 643.1,1144 522.4,1136.4 520.1,1142.5 507.2,1150.8 527.3,1151.2 534.5,1156.5 538.7,1159.9 512.9,1159.5 516.7,1163.3 520.1,1162.2 508,1161.4 499.6,1165.2 504.2,1167.1 507.2,1167.1 514.4,1167.9 505.3,1173.6 535.7,1169.8 542.1,1174 553.5,1186.5 505.3,1186.1 511.8,1188 517.5,1189.5 495.1,1190.7 497.7,1193.7 500.4,1196.7 514.4,1193.7 509.9,1199.4 509.9,1203.2 511.8,1207 521.3,1202.4 523.2,1208.9 527,1212.7 541,1208.9 574.4,1218.7 560,1226.3 541,1224.1 481.4,1207 485.2,1205.8 487.9,1207 484.4,1211.5 485.2,1216.5 500.4,1210.8 494.7,1217.6 507.2,1216.5 517.5,1216.5 521.3,1218.4 527.7,1218.4 527,1224.1 528.9,1227.9 511.8,1224.8 519.4,1226 501.5,1226 496.6,1227.9 492.8,1227.9 479.5,1222.2 475.7,1228.6 547.8,1238.1 554.7,1243 533.4,1241.1 545.9,1246.8 540.2,1248 536.4,1249.9 530.7,1253.3 527,1256.3 523.2,1257.5 549,1264.7 508,1262 511.8,1264.7 515.6,1263.1"/>
<circle cx="625.9" cy="957.3" r="3.05" fill="#f2334d" stroke="#c61f3b" stroke-width="1.1"/>
<circle cx="567.8" cy="1044.8" r="3.05" fill="#f2334d" stroke="#c61f3b" stroke-width="1.1"/>
</g>
<g font-family="'Liberation Sans', sans-serif">
<text transform="translate(149.8 1306.1) scale(1.1 1)" font-size="21.2" font-weight="bold" text-anchor="end" fill="#000">0</text>
<text transform="translate(149.8 1256.3) scale(1.1 1)" font-size="21.2" font-weight="bold" text-anchor="end" fill="#000">1</text>
<text transform="translate(149.8 1206.5) scale(1.1 1)" font-size="21.2" font-weight="bold" text-anchor="end" fill="#000">2</text>
<text transform="translate(149.8 1156.7) scale(1.1 1)" font-size="21.2" font-weight="bold" text-anchor="end" fill="#000">3</text>
<text transform="translate(149.8 1106.9) scale(1.1 1)" font-size="21.2" font-weight="bold" text-anchor="end" fill="#000">4</text>
<text transform="translate(149.8 1007.4) scale(1.1 1)" font-size="21.2" font-weight="bold" text-anchor="end" fill="#000">6</text>
<text transform="translate(149.8 957.6) scale(1.1 1)" font-size="21.2" font-weight="bold" text-anchor="end" fill="#000">7</text>
<text x="149.1" y="1069.8" font-size="20" font-weight="bold" text-anchor="end" fill="#7d7d7d" textLength="118.5" lengthAdjust="spacingAndGlyphs">FDR P&lt;0.01</text>
<text transform="translate(196.0 1329.1) scale(1.09 1)" font-size="21.2" font-weight="bold" text-anchor="middle" fill="#000">-1.0</text>
<text transform="translate(306.0 1329.1) scale(1.09 1)" font-size="21.2" font-weight="bold" text-anchor="middle" fill="#000">-0.5</text>
<text transform="translate(416.2 1329.1) scale(1.09 1)" font-size="21.2" font-weight="bold" text-anchor="middle" fill="#000">0</text>
<text transform="translate(527.0 1329.1) scale(1.09 1)" font-size="21.2" font-weight="bold" text-anchor="middle" fill="#000">0.5</text>
<text transform="translate(638.0 1329.1) scale(1.09 1)" font-size="21.2" font-weight="bold" text-anchor="middle" fill="#000">1.0</text>
<text x="416.5" y="1358.7" font-size="21" text-anchor="middle" fill="#222" textLength="158.5" lengthAdjust="spacingAndGlyphs">Mean Difference</text>
<text transform="translate(18.8 1113.5) rotate(-90)" font-size="21.5" text-anchor="middle" fill="#222" textLength="91.5" lengthAdjust="spacingAndGlyphs">Logworth</text>
</g>
<g font-family="'Liberation Serif', serif" font-weight="bold" font-size="44" fill="#000">
<text transform="translate(1.3 20.6) scale(1.07 1.03)">a</text>
<text transform="translate(0.3 476.3) scale(1.07 1.03)">b</text>
<text transform="translate(2.3 948) scale(1.07 1.03)">c</text>
</g>
</svg>
</body></html>
